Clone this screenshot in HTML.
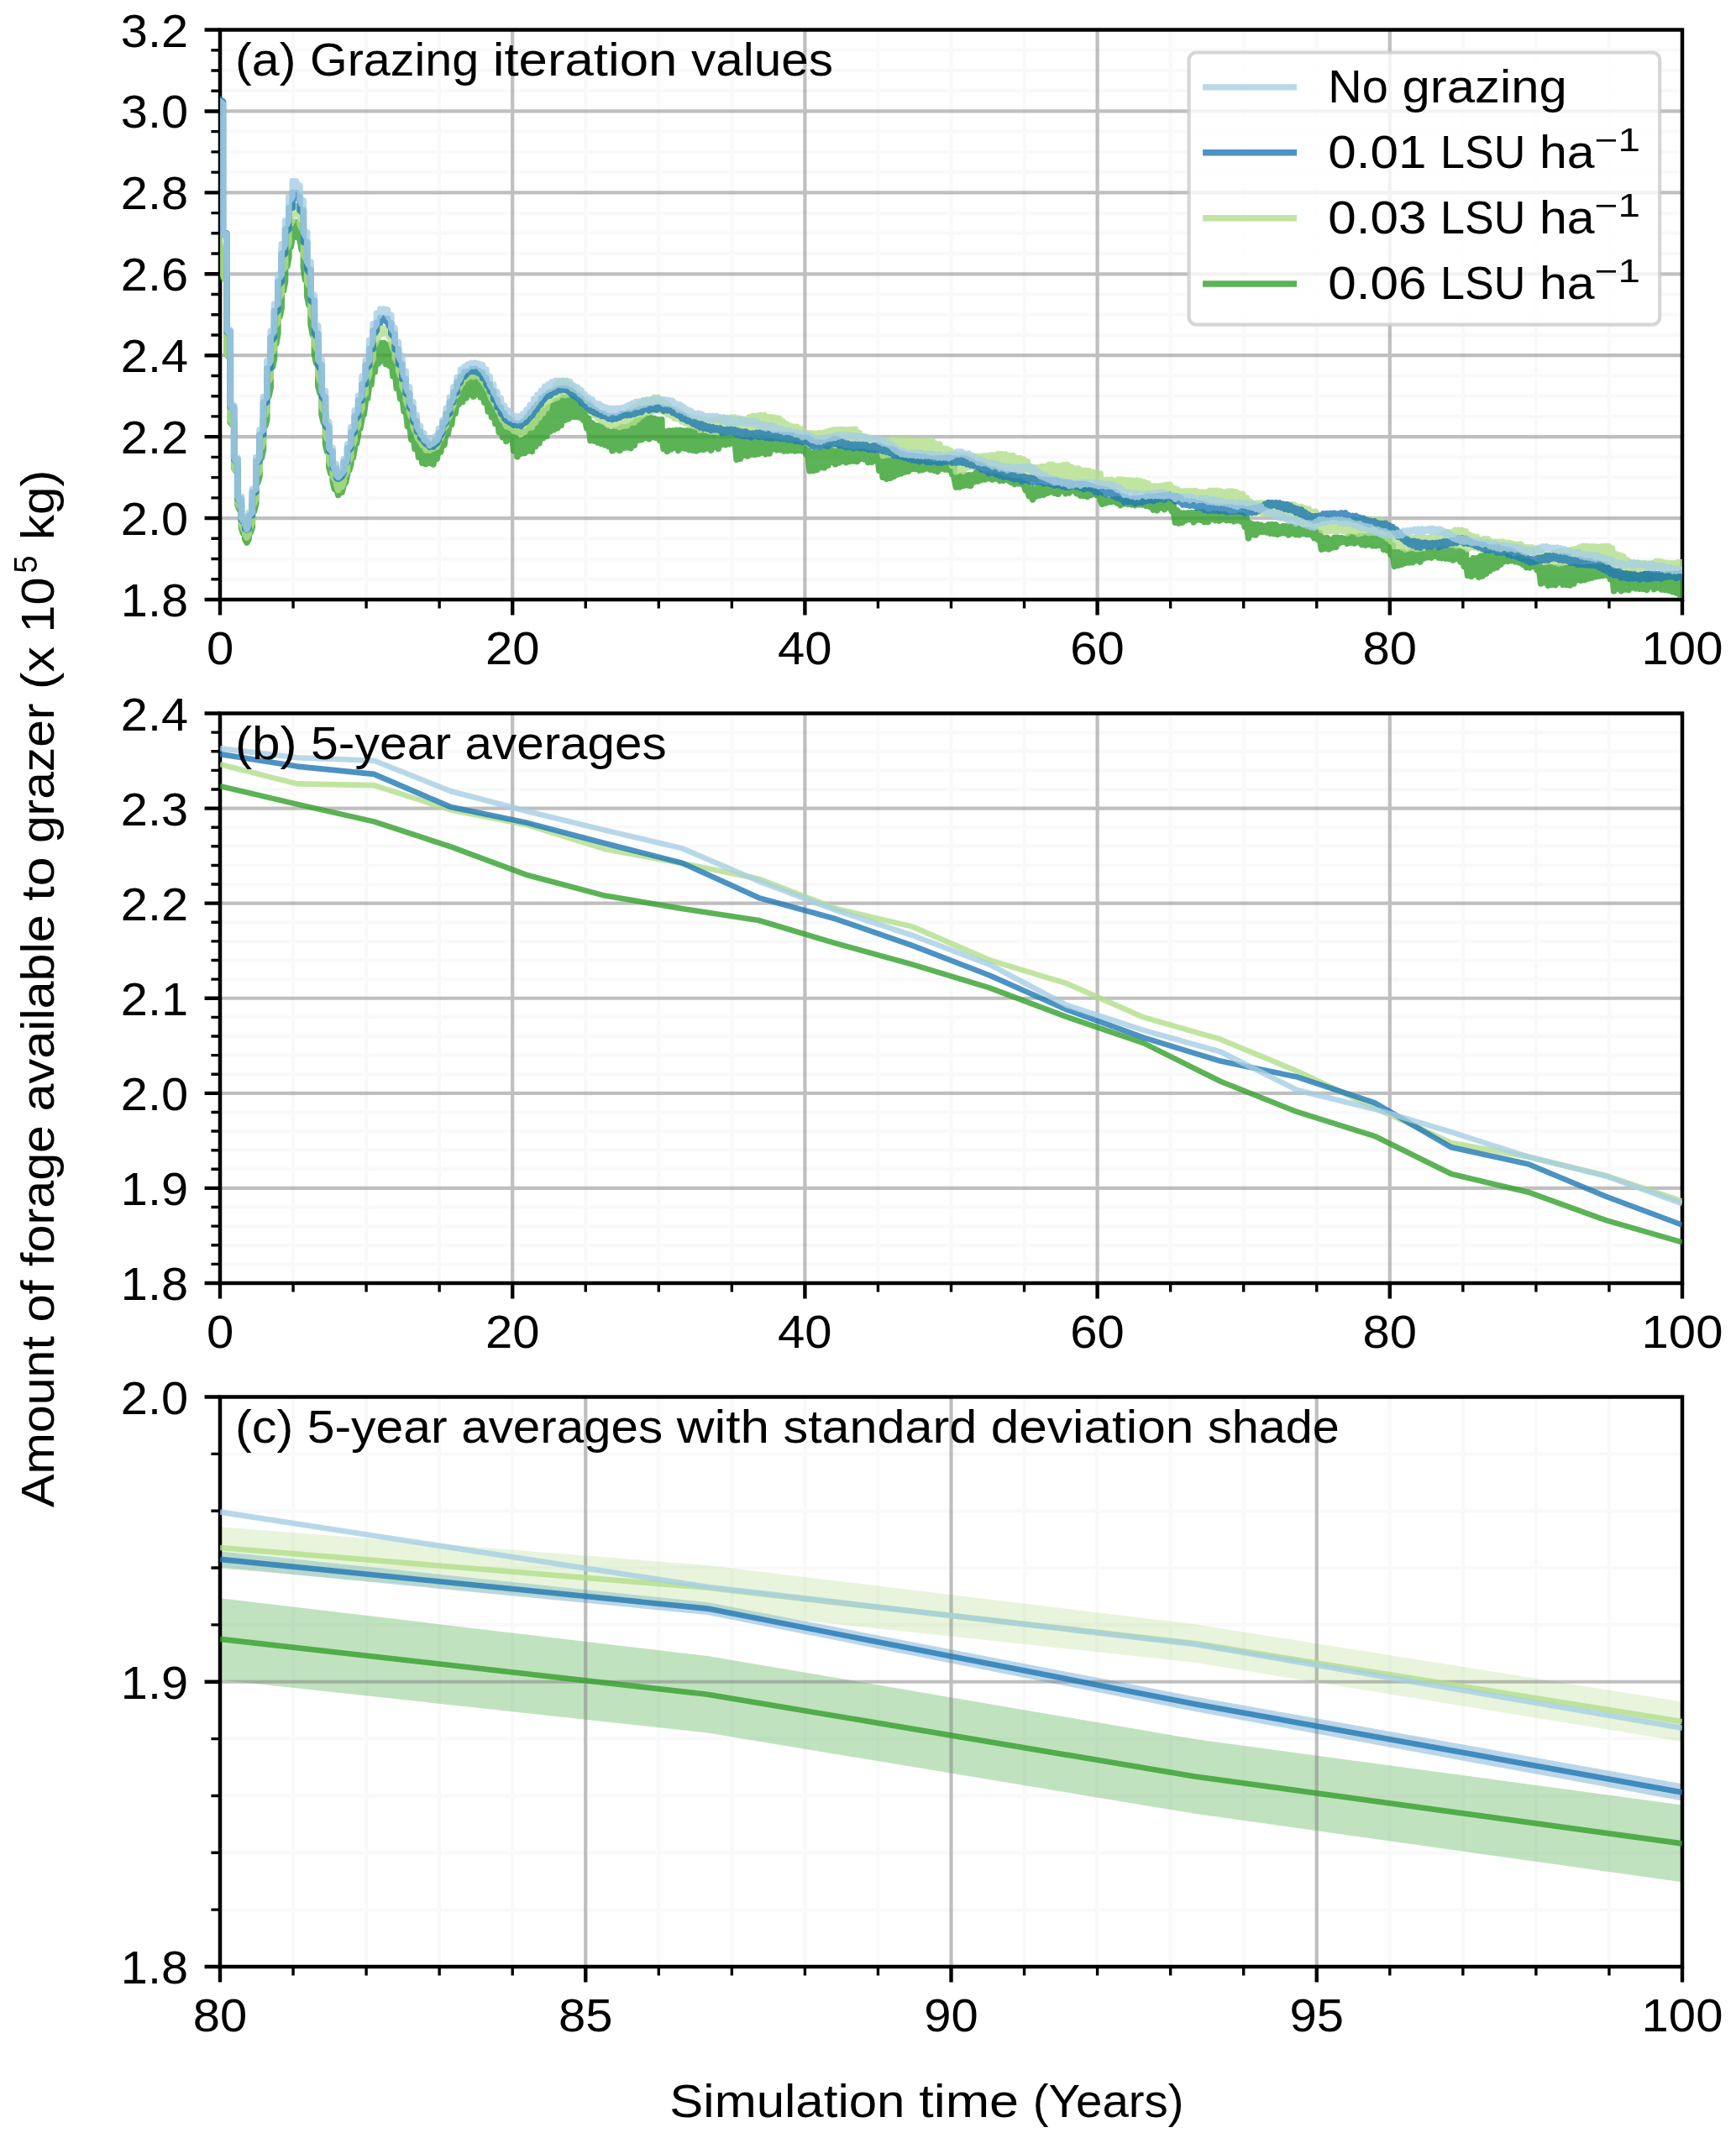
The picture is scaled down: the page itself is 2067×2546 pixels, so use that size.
<!DOCTYPE html>
<html><head><meta charset="utf-8"><title>Forage chart</title>
<style>html,body{margin:0;padding:0;background:#fff}svg{display:block;will-change:transform}text{font-family:"Liberation Sans",sans-serif;fill:#000}</style></head>
<body>
<svg width="2067" height="2546" viewBox="0 0 2067 2546">
<rect x="0" y="0" width="2067" height="2546" fill="#fff"/>
<defs><clipPath id="c0"><rect x="262.0" y="35.5" width="1741.0" height="678.5"/></clipPath><clipPath id="c1"><rect x="262.0" y="849.5" width="1741.0" height="678.5"/></clipPath><clipPath id="c2"><rect x="262.0" y="1663.5" width="1741.0" height="678.5"/></clipPath></defs>
<g id="panel0">
<path d="M349.05 35.5V714.0M436.10 35.5V714.0M523.15 35.5V714.0M697.25 35.5V714.0M784.30 35.5V714.0M871.35 35.5V714.0M1045.45 35.5V714.0M1132.50 35.5V714.0M1219.55 35.5V714.0M1393.65 35.5V714.0M1480.70 35.5V714.0M1567.75 35.5V714.0M1741.85 35.5V714.0M1828.90 35.5V714.0M1915.95 35.5V714.0M262.0 689.77H2003.0M262.0 665.54H2003.0M262.0 641.30H2003.0M262.0 592.84H2003.0M262.0 568.61H2003.0M262.0 544.38H2003.0M262.0 495.91H2003.0M262.0 471.68H2003.0M262.0 447.45H2003.0M262.0 398.98H2003.0M262.0 374.75H2003.0M262.0 350.52H2003.0M262.0 302.05H2003.0M262.0 277.82H2003.0M262.0 253.59H2003.0M262.0 205.12H2003.0M262.0 180.89H2003.0M262.0 156.66H2003.0M262.0 108.20H2003.0M262.0 83.96H2003.0M262.0 59.73H2003.0" stroke="#808080" stroke-opacity="0.05" stroke-width="4.0" fill="none"/>
<path d="M610.20 35.5V714.0M958.40 35.5V714.0M1306.60 35.5V714.0M1654.80 35.5V714.0M262.0 617.07H2003.0M262.0 520.14H2003.0M262.0 423.21H2003.0M262.0 326.29H2003.0M262.0 229.36H2003.0M262.0 132.43H2003.0" stroke="#808080" stroke-opacity="0.5" stroke-width="4.2" fill="none"/>
<path d="M262.00 714.0v18.4M610.20 714.0v18.4M958.40 714.0v18.4M1306.60 714.0v18.4M1654.80 714.0v18.4M2003.00 714.0v18.4M262.0 714.00h-18.4M262.0 617.07h-18.4M262.0 520.14h-18.4M262.0 423.21h-18.4M262.0 326.29h-18.4M262.0 229.36h-18.4M262.0 132.43h-18.4M262.0 35.50h-18.4" stroke="#000" stroke-width="4.4" fill="none"/>
<path d="M349.05 714.0v10.6M436.10 714.0v10.6M523.15 714.0v10.6M697.25 714.0v10.6M784.30 714.0v10.6M871.35 714.0v10.6M1045.45 714.0v10.6M1132.50 714.0v10.6M1219.55 714.0v10.6M1393.65 714.0v10.6M1480.70 714.0v10.6M1567.75 714.0v10.6M1741.85 714.0v10.6M1828.90 714.0v10.6M1915.95 714.0v10.6M262.0 689.77h-10.6M262.0 665.54h-10.6M262.0 641.30h-10.6M262.0 592.84h-10.6M262.0 568.61h-10.6M262.0 544.38h-10.6M262.0 495.91h-10.6M262.0 471.68h-10.6M262.0 447.45h-10.6M262.0 398.98h-10.6M262.0 374.75h-10.6M262.0 350.52h-10.6M262.0 302.05h-10.6M262.0 277.82h-10.6M262.0 253.59h-10.6M262.0 205.12h-10.6M262.0 180.89h-10.6M262.0 156.66h-10.6M262.0 108.20h-10.6M262.0 83.96h-10.6M262.0 59.73h-10.6" stroke="#000" stroke-width="3.4" fill="none"/>
<rect x="262.0" y="35.5" width="1741.0" height="678.5" fill="none" stroke="#000" stroke-width="4.5"/>
<g clip-path="url(#c0)"><path d="M260.0 281.0L265.6 322.0L265.6 331.1L267.8 332.1L270.0 331.1L270.0 422.5L272.1 424.7L274.3 422.5L274.3 503.0L276.5 505.2L278.7 503.0L278.7 557.5L280.8 560.9L283.0 557.5L283.0 601.2L285.2 606.8L287.4 601.2L287.4 628.2L289.5 635.0L291.7 628.2L291.7 641.8L293.9 645.9L296.1 641.8L296.1 627.8L298.2 633.9L300.4 627.8L300.4 599.5L302.6 608.9L304.8 599.5L304.8 566.6L306.9 574.9L309.1 566.6L309.1 535.4L311.3 545.4L313.5 535.4L313.5 499.6L315.7 507.2L317.8 499.6L317.8 461.3L320.0 471.8L322.2 461.3L322.2 427.3L324.4 437.0L326.5 427.3L326.5 396.4L328.7 409.5L330.9 396.4L330.9 366.7L333.1 376.7L335.2 366.7L335.2 334.7L337.4 346.3L339.6 334.7L339.6 305.9L341.8 317.2L343.9 305.9L343.9 281.3L346.1 294.0L348.3 281.3L348.3 264.8L350.5 278.0L352.7 264.8L352.7 268.9L354.8 282.9L357.0 268.9L357.0 284.1L359.2 297.3L361.4 284.1L361.4 319.0L363.5 333.2L365.7 319.0L365.7 352.4L367.9 363.0L370.1 352.4L370.1 385.9L372.2 398.0L374.4 385.9L374.4 421.5L376.6 432.2L378.8 421.5L378.8 459.4L380.9 467.7L383.1 459.4L383.1 494.1L385.3 503.2L387.5 494.1L387.5 528.6L389.6 537.7L391.8 528.6L391.8 556.0L394.0 564.3L396.2 556.0L396.2 573.0L398.4 582.1L400.5 573.0L400.5 581.2L402.7 589.4L404.9 581.2L404.9 577.7L407.1 586.2L409.2 577.7L409.2 564.5L411.4 574.6L413.6 564.5L413.6 552.3L415.8 559.7L417.9 552.3L417.9 533.5L420.1 545.3L422.3 533.5L422.3 516.0L424.5 528.3L426.6 516.0L426.6 497.9L428.8 510.2L431.0 497.9L431.0 476.9L433.2 493.5L435.3 476.9L435.3 457.5L437.5 474.6L439.7 457.5L439.7 437.6L441.9 458.1L444.1 437.6L444.1 419.4L446.2 442.8L448.4 419.4L448.4 412.1L450.6 432.8L452.8 412.1L452.8 408.6L454.9 429.4L457.1 408.6L457.1 410.5L459.3 433.4L461.5 410.5L461.5 413.9L463.6 435.4L465.8 413.9L465.8 426.3L468.0 447.8L470.2 426.3L470.2 440.0L472.3 462.3L474.5 440.0L474.5 455.7L476.7 474.9L478.9 455.7L478.9 471.6L481.0 489.7L483.2 471.6L483.2 486.3L485.4 507.6L487.6 486.3L487.6 504.3L489.8 523.2L491.9 504.3L491.9 518.4L494.1 534.4L496.3 518.4L496.3 525.9L498.5 544.3L500.6 525.9L500.6 536.0L502.8 551.3L505.0 536.0L505.0 537.5L507.2 552.6L509.3 537.5L509.3 537.2L511.5 551.4L513.7 537.2L513.7 535.1L515.9 552.9L518.0 535.1L518.0 533.8L520.2 546.4L522.4 533.8L522.4 524.7L524.6 538.3L526.8 524.7L526.8 511.8L528.9 529.9L531.1 511.8L531.1 501.3L533.3 516.8L535.5 501.3L535.5 487.2L537.6 505.6L539.8 487.2L539.8 477.7L542.0 492.7L544.2 477.7L544.2 463.6L546.3 481.2L548.5 463.6L548.5 456.5L550.7 478.5L552.9 456.5L552.9 453.9L555.0 474.0L557.2 453.9L557.2 449.9L559.4 469.6L561.6 449.9L561.6 451.6L563.7 472.2L565.9 451.6L565.9 451.1L568.1 469.8L570.3 451.1L570.3 455.9L572.5 473.0L574.6 455.9L574.6 462.4L576.8 479.2L579.0 462.4L579.0 470.1L581.2 489.9L583.3 470.1L583.3 479.4L585.5 496.6L587.7 479.4L587.7 488.6L589.9 504.5L592.0 488.6L592.0 495.9L594.2 514.6L596.4 495.9L596.4 506.2L598.6 520.7L600.7 506.2L600.7 509.5L602.9 525.5L605.1 509.5L605.1 511.9L607.3 523.3L609.4 511.9L609.4 512.5L611.6 536.6L613.8 512.5L613.8 515.8L616.0 543.8L618.2 515.8L618.2 516.9L620.3 540.1L622.5 516.9L622.5 514.6L624.7 539.5L626.9 514.6L626.9 512.8L629.0 537.0L631.2 512.8L631.2 505.5L633.4 537.5L635.6 505.5L635.6 503.9L637.7 531.5L639.9 503.9L639.9 496.4L642.1 527.7L644.3 496.4L644.3 492.5L646.4 521.8L648.6 492.5L648.6 488.9L650.8 519.4L653.0 488.9L653.0 484.9L655.1 513.7L657.3 484.9L657.3 483.2L659.5 511.7L661.7 483.2L661.7 478.0L663.9 509.6L666.0 478.0L666.0 477.1L668.2 506.5L670.4 477.1L670.4 473.3L672.6 500.3L674.7 473.3L674.7 476.0L676.9 498.7L679.1 476.0L679.1 475.0L681.3 496.1L683.4 475.0L683.4 480.1L685.6 496.5L687.8 480.1L687.8 482.5L690.0 496.8L692.1 482.5L692.1 486.8L694.3 500.0L696.5 486.8L696.5 498.3L698.7 509.8L700.8 498.3L700.9 504.1L703.0 524.5L705.2 504.1L705.2 507.3L707.4 524.9L709.6 507.3L709.6 506.8L711.7 526.9L713.9 506.8L713.9 509.5L716.1 528.3L718.3 509.5L718.3 512.2L720.4 529.9L722.6 512.2L722.6 514.4L724.8 531.5L727.0 514.4L727.0 515.0L729.1 536.8L731.3 515.0L731.3 512.7L733.5 534.8L735.7 512.7L735.7 511.4L737.8 536.5L740.0 511.4L740.0 508.7L742.2 533.4L744.4 508.7L744.4 509.0L746.6 532.7L748.7 509.0L748.7 508.0L750.9 533.7L753.1 508.0L753.1 505.0L755.3 530.2L757.4 505.0L757.4 501.5L759.6 524.3L761.8 501.5L761.8 500.2L764.0 523.7L766.1 500.2L766.1 500.0L768.3 521.2L770.5 500.0L770.5 497.5L772.7 522.7L774.8 497.5L774.8 498.5L777.0 520.6L779.2 498.5L779.2 502.3L781.4 521.2L783.5 502.3L783.5 499.9L785.7 524.3L787.9 499.9L787.9 517.3L790.1 534.4L792.3 517.3L792.3 514.1L794.4 537.4L796.6 514.1L796.6 513.0L798.8 535.0L801.0 513.0L801.0 515.1L803.1 533.1L805.3 515.1L805.3 512.2L807.5 536.5L809.7 512.2L809.7 514.1L811.8 533.5L814.0 514.1L814.0 513.0L816.2 534.0L818.4 513.0L818.4 513.0L820.5 535.6L822.7 513.0L822.7 513.0L824.9 536.1L827.1 513.0L827.1 513.6L829.2 536.9L831.4 513.6L831.4 517.7L833.6 535.2L835.8 517.7L835.8 519.0L838.0 535.3L840.1 519.0L840.1 520.7L842.3 533.7L844.5 520.7L844.5 520.0L846.7 536.2L848.8 520.0L848.8 522.2L851.0 532.4L853.2 522.2L853.2 519.6L855.4 534.4L857.5 519.6L857.5 520.3L859.7 529.4L861.9 520.3L861.9 522.2L864.1 529.6L866.2 522.2L866.2 522.6L868.4 528.6L870.6 522.6L870.6 522.1L872.8 527.1L875.0 522.1L875.0 522.1L877.1 547.1L879.3 522.1L879.3 523.9L881.5 546.1L883.7 523.9L883.7 525.1L885.8 541.9L888.0 525.1L888.0 525.5L890.2 542.9L892.4 525.5L892.4 523.8L894.5 541.0L896.7 523.8L896.7 522.3L898.9 541.3L901.1 522.3L901.1 522.7L903.2 540.6L905.4 522.7L905.4 522.6L907.6 539.0L909.8 522.6L909.8 524.8L911.9 540.8L914.1 524.8L914.1 525.2L916.3 539.9L918.5 525.2L918.5 526.6L920.7 534.6L922.8 526.6L922.8 525.3L925.0 535.8L927.2 525.3L927.2 525.7L929.4 535.7L931.5 525.7L931.5 525.7L933.7 537.1L935.9 525.7L935.9 525.5L938.1 536.8L940.2 525.5L940.2 526.9L942.4 536.2L944.6 526.9L944.6 526.3L946.8 537.1L948.9 526.3L948.9 525.7L951.1 536.3L953.3 525.7L953.3 526.8L955.5 536.9L957.6 526.8L957.6 531.6L959.8 540.6L962.0 531.6L962.0 539.7L964.2 560.8L966.4 539.7L966.4 539.9L968.5 560.4L970.7 539.9L970.7 539.1L972.9 559.4L975.1 539.1L975.1 538.5L977.2 556.4L979.4 538.5L979.4 539.1L981.6 556.9L983.8 539.1L983.8 533.4L985.9 554.1L988.1 533.4L988.1 535.0L990.3 550.2L992.5 535.0L992.5 535.0L994.6 552.7L996.8 535.0L996.8 534.2L999.0 550.9L1001.2 534.2L1001.2 536.9L1003.3 549.3L1005.5 536.9L1005.5 537.2L1007.7 550.7L1009.9 537.2L1009.9 536.7L1012.1 549.5L1014.2 536.7L1014.2 535.8L1016.4 549.0L1018.6 535.8L1018.6 537.8L1020.8 549.5L1022.9 537.8L1022.9 540.5L1025.1 546.2L1027.3 540.5L1027.3 536.9L1029.5 547.0L1031.6 536.9L1031.6 537.9L1033.8 550.5L1036.0 537.9L1036.0 539.8L1038.2 550.2L1040.3 539.8L1040.3 539.9L1042.5 548.5L1044.7 539.9L1044.7 541.6L1046.9 560.2L1049.0 541.6L1049.1 546.6L1051.2 568.3L1053.4 546.6L1053.4 544.4L1055.6 570.2L1057.8 544.4L1057.8 545.9L1059.9 569.3L1062.1 545.9L1062.1 545.5L1064.3 567.4L1066.5 545.5L1066.5 546.6L1068.6 565.0L1070.8 546.6L1070.8 545.8L1073.0 563.7L1075.2 545.8L1075.2 547.0L1077.3 562.1L1079.5 547.0L1079.5 549.5L1081.7 561.2L1083.9 549.5L1083.9 548.6L1086.0 558.5L1088.2 548.6L1088.2 551.2L1090.4 558.3L1092.6 551.2L1092.6 549.1L1094.8 560.0L1096.9 549.1L1096.9 548.9L1099.1 559.3L1101.3 548.9L1101.3 550.5L1103.5 557.9L1105.6 550.5L1105.6 553.9L1107.8 559.2L1110.0 553.9L1110.0 553.2L1112.2 560.2L1114.3 553.2L1114.3 554.4L1116.5 561.4L1118.7 554.4L1118.7 552.9L1120.9 557.9L1123.0 552.9L1123.0 552.8L1125.2 559.0L1127.4 552.8L1127.4 552.9L1129.6 559.3L1131.7 552.9L1131.7 556.4L1133.9 564.9L1136.1 556.4L1136.1 568.0L1138.3 580.1L1140.5 568.0L1140.5 568.2L1142.6 580.0L1144.8 568.2L1144.8 566.0L1147.0 578.5L1149.2 566.0L1149.2 567.2L1151.3 577.7L1153.5 567.2L1153.5 565.9L1155.7 578.5L1157.9 565.9L1157.9 565.9L1160.0 573.7L1162.2 565.9L1162.2 562.5L1164.4 573.0L1166.6 562.5L1166.6 565.0L1168.7 571.5L1170.9 565.0L1170.9 564.4L1173.1 570.8L1175.3 564.4L1175.3 564.2L1177.4 569.7L1179.6 564.2L1179.6 565.4L1181.8 571.0L1184.0 565.4L1184.0 569.9L1186.2 569.9L1188.3 569.9L1188.3 566.7L1190.5 572.5L1192.7 566.7L1192.7 569.0L1194.9 572.2L1197.0 569.0L1197.0 568.7L1199.2 571.5L1201.4 568.7L1201.4 572.3L1203.6 574.1L1205.7 572.3L1205.7 574.0L1207.9 576.4L1210.1 574.0L1210.1 572.7L1212.3 575.7L1214.4 572.7L1214.4 574.0L1216.6 576.3L1218.8 574.0L1218.8 576.4L1221.0 583.5L1223.2 576.4L1223.2 582.3L1225.3 590.7L1227.5 582.3L1227.5 582.6L1229.7 594.8L1231.9 582.6L1231.9 583.5L1234.0 590.8L1236.2 583.5L1236.2 579.6L1238.4 589.9L1240.6 579.6L1240.6 583.6L1242.7 589.2L1244.9 583.6L1244.9 581.4L1247.1 587.3L1249.3 581.4L1249.3 582.8L1251.4 585.7L1253.6 582.8L1253.6 583.0L1255.8 587.1L1258.0 583.0L1258.0 580.1L1260.1 588.2L1262.3 580.1L1262.3 581.7L1264.5 584.6L1266.7 581.7L1266.7 581.0L1268.9 587.6L1271.0 581.0L1271.0 581.2L1273.2 586.9L1275.4 581.2L1275.4 584.3L1277.6 584.3L1279.7 584.3L1279.7 582.9L1281.9 587.6L1284.1 582.9L1284.1 583.4L1286.3 590.1L1288.4 583.4L1288.4 583.1L1290.6 590.3L1292.8 583.1L1292.8 582.6L1295.0 591.2L1297.1 582.6L1297.1 587.1L1299.3 589.3L1301.5 587.1L1301.5 585.7L1303.7 586.7L1305.8 585.7L1305.8 589.4L1308.0 589.4L1310.2 589.4L1310.2 595.8L1312.4 600.2L1314.6 595.8L1314.6 595.3L1316.7 599.0L1318.9 595.3L1318.9 597.7L1321.1 597.7L1323.3 597.7L1323.3 595.3L1325.4 596.8L1327.6 595.3L1327.6 594.6L1329.8 598.7L1332.0 594.6L1332.0 598.4L1334.1 601.5L1336.3 598.4L1336.3 597.1L1338.5 599.8L1340.7 597.1L1340.7 599.0L1342.8 600.3L1345.0 599.0L1345.0 597.9L1347.2 600.8L1349.4 597.9L1349.4 596.1L1351.5 601.7L1353.7 596.1L1353.7 596.4L1355.9 600.6L1358.1 596.4L1358.1 600.3L1360.3 601.0L1362.4 600.3L1362.4 598.0L1364.6 602.2L1366.8 598.0L1366.8 600.7L1369.0 603.2L1371.1 600.7L1371.1 597.2L1373.3 607.1L1375.5 597.2L1375.5 597.3L1377.7 607.7L1379.8 597.3L1379.8 601.4L1382.0 604.8L1384.2 601.4L1384.2 600.0L1386.4 606.6L1388.5 600.0L1388.5 598.7L1390.7 604.0L1392.9 598.7L1392.9 600.9L1395.1 608.4L1397.2 600.9L1397.2 607.8L1399.4 622.2L1401.6 607.8L1401.6 610.9L1403.8 623.1L1406.0 610.9L1406.0 611.2L1408.1 622.1L1410.3 611.2L1410.3 611.5L1412.5 619.3L1414.7 611.5L1414.7 610.7L1416.8 618.4L1419.0 610.7L1419.0 610.7L1421.2 621.8L1423.4 610.7L1423.4 610.9L1425.5 619.1L1427.7 610.9L1427.7 610.2L1429.9 619.2L1432.1 610.2L1432.1 613.3L1434.2 621.5L1436.4 613.3L1436.4 612.8L1438.6 621.3L1440.8 612.8L1440.8 613.1L1443.0 618.0L1445.1 613.1L1445.1 611.9L1447.3 619.6L1449.5 611.9L1449.5 613.4L1451.7 620.1L1453.8 613.4L1453.8 612.7L1456.0 618.5L1458.2 612.7L1458.2 615.0L1460.4 619.5L1462.5 615.0L1462.5 615.3L1464.7 619.5L1466.9 615.3L1466.9 615.6L1469.1 620.8L1471.2 615.6L1471.2 615.1L1473.4 619.5L1475.6 615.1L1475.6 613.7L1477.8 620.8L1479.9 613.7L1479.9 617.2L1482.1 627.3L1484.3 617.2L1484.3 622.9L1486.5 640.9L1488.7 622.9L1488.7 625.9L1490.8 636.6L1493.0 625.9L1493.0 624.6L1495.2 637.0L1497.4 624.6L1497.4 625.4L1499.5 633.6L1501.7 625.4L1501.7 626.9L1503.9 633.2L1506.1 626.9L1506.1 627.3L1508.2 633.8L1510.4 627.3L1510.4 624.7L1512.6 635.1L1514.8 624.7L1514.8 624.9L1516.9 635.5L1519.1 624.9L1519.1 627.7L1521.3 636.4L1523.5 627.7L1523.5 629.1L1525.6 634.9L1527.8 629.1L1527.8 626.6L1530.0 634.8L1532.2 626.6L1532.2 626.5L1534.4 636.9L1536.5 626.5L1536.5 627.4L1538.7 635.2L1540.9 627.4L1540.9 628.6L1543.1 636.5L1545.2 628.6L1545.2 631.0L1547.4 636.8L1549.6 631.0L1549.6 630.7L1551.8 635.3L1553.9 630.7L1553.9 630.5L1556.1 636.4L1558.3 630.5L1558.3 632.8L1560.5 636.6L1562.6 632.8L1562.6 632.7L1564.8 640.7L1567.0 632.7L1567.0 635.0L1569.2 642.6L1571.3 635.0L1571.3 640.6L1573.5 654.2L1575.7 640.6L1575.7 640.5L1577.9 653.1L1580.1 640.5L1580.1 643.4L1582.2 654.0L1584.4 643.4L1584.4 642.8L1586.6 652.1L1588.8 642.8L1588.8 640.2L1590.9 651.4L1593.1 640.2L1593.1 640.6L1595.3 646.5L1597.5 640.6L1597.5 641.4L1599.6 645.2L1601.8 641.4L1601.8 641.6L1604.0 647.3L1606.2 641.6L1606.2 639.1L1608.3 646.1L1610.5 639.1L1610.5 640.7L1612.7 647.0L1614.9 640.7L1614.9 639.7L1617.1 645.6L1619.2 639.7L1619.2 638.6L1621.4 648.5L1623.6 638.6L1623.6 638.9L1625.8 649.3L1627.9 638.9L1627.9 639.7L1630.1 648.1L1632.3 639.7L1632.3 637.2L1634.5 649.8L1636.6 637.2L1636.6 640.2L1638.8 649.8L1641.0 640.2L1641.0 640.3L1643.2 649.4L1645.3 640.3L1645.3 642.2L1647.5 654.3L1649.7 642.2L1649.7 641.3L1651.9 655.5L1654.0 641.3L1654.0 649.0L1656.2 660.9L1658.4 649.0L1658.4 660.5L1660.6 674.3L1662.8 660.5L1662.8 657.5L1664.9 673.2L1667.1 657.5L1667.1 657.4L1669.3 672.1L1671.5 657.4L1671.5 660.1L1673.6 670.3L1675.8 660.1L1675.8 660.3L1678.0 670.0L1680.2 660.3L1680.2 657.1L1682.3 669.7L1684.5 657.1L1684.5 658.1L1686.7 667.3L1688.9 658.1L1688.9 658.2L1691.0 669.1L1693.2 658.2L1693.2 658.8L1695.4 664.9L1697.6 658.8L1697.6 659.2L1699.7 663.6L1701.9 659.2L1701.9 656.5L1704.1 664.1L1706.3 656.5L1706.3 658.6L1708.5 662.1L1710.6 658.6L1710.6 656.7L1712.8 664.0L1715.0 656.7L1715.0 654.2L1717.2 664.6L1719.3 654.2L1719.3 656.6L1721.5 665.1L1723.7 656.6L1723.7 653.0L1725.9 665.3L1728.0 653.0L1728.0 654.5L1730.2 667.0L1732.4 654.5L1732.4 655.7L1734.6 665.2L1736.7 655.7L1736.7 656.9L1738.9 668.9L1741.1 656.9L1741.1 658.7L1743.3 674.6L1745.4 658.7L1745.4 667.9L1747.6 685.3L1749.8 667.9L1749.8 669.0L1752.0 686.3L1754.2 669.0L1754.2 664.7L1756.3 684.3L1758.5 664.7L1758.5 665.1L1760.7 687.2L1762.9 665.1L1762.9 662.4L1765.0 685.9L1767.2 662.4L1767.2 660.7L1769.4 683.1L1771.6 660.7L1771.6 659.8L1773.7 679.9L1775.9 659.8L1775.9 660.2L1778.1 677.0L1780.3 660.2L1780.3 657.8L1782.4 675.7L1784.6 657.8L1784.6 660.0L1786.8 672.3L1789.0 660.0L1789.0 660.5L1791.2 668.6L1793.3 660.5L1793.3 663.7L1795.5 668.3L1797.7 663.7L1797.7 666.0L1799.9 667.6L1802.0 666.0L1802.0 666.6L1804.2 668.7L1806.4 666.6L1806.4 664.8L1808.6 669.8L1810.7 664.8L1810.7 667.3L1812.9 672.0L1815.1 667.3L1815.1 667.5L1817.3 675.5L1819.4 667.5L1819.4 669.6L1821.6 676.0L1823.8 669.6L1823.8 672.0L1826.0 674.2L1828.1 672.0L1828.1 673.1L1830.3 678.8L1832.5 673.1L1832.5 676.1L1834.7 694.9L1836.9 676.1L1836.9 677.1L1839.0 693.7L1841.2 677.1L1841.2 675.1L1843.4 697.2L1845.6 675.1L1845.6 677.9L1847.7 696.3L1849.9 677.9L1849.9 675.9L1852.1 696.6L1854.3 675.9L1854.3 677.6L1856.4 693.6L1858.6 677.6L1858.6 675.9L1860.8 696.1L1863.0 675.9L1863.0 679.2L1865.1 696.3L1867.3 679.2L1867.3 675.7L1869.5 696.9L1871.7 675.7L1871.7 674.7L1873.8 695.0L1876.0 674.7L1876.0 675.2L1878.2 690.7L1880.4 675.2L1880.4 675.8L1882.6 691.3L1884.7 675.8L1884.7 677.7L1886.9 690.7L1889.1 677.7L1889.1 675.1L1891.3 689.0L1893.4 675.1L1893.4 675.0L1895.6 687.9L1897.8 675.0L1897.8 676.7L1900.0 686.6L1902.1 676.7L1902.1 674.9L1904.3 686.0L1906.5 674.9L1906.5 676.7L1908.7 685.4L1910.8 676.7L1910.8 674.6L1913.0 684.9L1915.2 674.6L1915.2 680.5L1917.4 689.7L1919.6 680.5L1919.6 681.0L1921.7 703.8L1923.9 681.0L1923.9 683.3L1926.1 701.0L1928.3 683.3L1928.3 684.0L1930.4 703.6L1932.6 684.0L1932.6 682.2L1934.8 701.9L1937.0 682.2L1937.0 685.0L1939.1 702.4L1941.3 685.0L1941.3 682.8L1943.5 699.8L1945.7 682.8L1945.7 685.8L1947.8 700.8L1950.0 685.8L1950.0 686.4L1952.2 701.2L1954.4 686.4L1954.4 685.4L1956.5 701.3L1958.7 685.4L1958.7 683.3L1960.9 702.4L1963.1 683.3L1963.1 684.9L1965.3 698.7L1967.4 684.9L1967.4 686.2L1969.6 701.7L1971.8 686.2L1971.8 685.5L1974.0 699.8L1976.1 685.5L1976.1 685.7L1978.3 702.1L1980.5 685.7L1980.5 686.2L1982.7 702.4L1984.8 686.2L1984.8 684.1L1987.0 703.0L1989.2 684.1L1989.2 682.7L1991.4 704.7L1993.5 682.7L1993.5 685.7L1995.7 705.9L1997.9 685.7L1997.9 683.9L2000.1 708.5L2002.2 683.9L2002.2 685.8L2004.4 708.7L2006.6 685.8" stroke="#33a02c" stroke-opacity="0.8" stroke-width="7.6" fill="none" stroke-linejoin="round"/>
<path d="M260.0 278.0L265.6 320.0L265.6 327.5L267.8 332.2L270.0 327.5L270.0 421.8L272.1 424.0L274.3 421.8L274.3 498.6L276.5 504.1L278.7 498.6L278.7 555.8L280.8 560.3L283.0 555.8L283.0 598.2L285.2 603.0L287.4 598.2L287.4 623.9L289.5 629.9L291.7 623.9L291.7 635.8L293.9 639.9L296.1 635.8L296.1 622.2L298.2 627.3L300.4 622.2L300.4 593.5L302.6 599.5L304.8 593.5L304.8 560.2L306.9 564.3L309.1 560.2L309.1 526.1L311.3 532.7L313.5 526.1L313.5 489.1L315.7 494.3L317.8 489.1L317.8 449.9L320.0 453.4L322.2 449.9L322.2 415.6L324.4 419.3L326.5 415.6L326.5 383.1L328.7 386.8L330.9 383.1L330.9 350.1L333.1 353.7L335.2 350.1L335.2 317.8L337.4 320.3L339.6 317.8L339.6 289.5L341.8 294.9L343.9 289.5L343.9 262.9L346.1 266.8L348.3 262.9L348.3 245.6L350.5 249.8L352.7 245.6L352.7 250.7L354.8 255.4L357.0 250.7L357.0 266.7L359.2 271.7L361.4 266.7L361.4 303.4L363.5 307.3L365.7 303.4L365.7 335.0L367.9 340.0L370.1 335.0L370.1 373.4L372.2 377.6L374.4 373.4L374.4 410.0L376.6 414.6L378.8 410.0L378.8 446.2L380.9 453.7L383.1 446.2L383.1 483.5L385.3 488.8L387.5 483.5L387.5 518.5L389.6 522.5L391.8 518.5L391.8 549.0L394.0 554.0L396.2 549.0L396.2 565.8L398.4 570.9L400.5 565.8L400.5 576.6L402.7 583.5L404.9 576.6L404.9 573.2L407.1 579.6L409.2 573.2L409.2 559.7L411.4 565.2L413.6 559.7L413.6 544.0L415.8 548.4L417.9 544.0L417.9 523.7L420.1 529.1L422.3 523.7L422.3 506.0L424.5 510.3L426.6 506.0L426.6 486.0L428.8 491.1L431.0 486.0L431.0 468.0L433.2 471.3L435.3 468.0L435.3 445.4L437.5 450.7L439.7 445.4L439.7 427.2L441.9 432.2L444.1 427.2L444.1 406.0L446.2 410.2L448.4 406.0L448.4 395.4L450.6 401.8L452.8 395.4L452.8 391.2L454.9 397.3L457.1 391.2L457.1 392.8L459.3 397.5L461.5 392.8L461.5 397.9L463.6 401.7L465.8 397.9L465.8 408.4L468.0 415.3L470.2 408.4L470.2 426.3L472.3 430.3L474.5 426.3L474.5 440.6L476.7 447.7L478.9 440.6L478.9 459.9L481.0 464.9L483.2 459.9L483.2 476.2L485.4 482.1L487.6 476.2L487.6 491.0L489.8 497.0L491.9 491.0L491.9 508.1L494.1 513.1L496.3 508.1L496.3 519.2L498.5 523.5L500.6 519.2L500.6 525.9L502.8 530.1L505.0 525.9L505.0 528.9L507.2 536.0L509.3 528.9L509.3 531.7L511.5 536.0L513.7 531.7L513.7 529.9L515.9 534.4L518.0 529.9L518.0 525.6L520.2 532.1L522.4 525.6L522.4 517.7L524.6 522.8L526.8 517.7L526.8 507.4L528.9 510.0L531.1 507.4L531.1 495.2L533.3 498.5L535.5 495.2L535.5 482.3L537.6 487.3L539.8 482.3L539.8 469.3L542.0 472.3L544.2 469.3L544.2 458.8L546.3 463.1L548.5 458.8L548.5 450.5L550.7 456.1L552.9 450.5L552.9 447.0L555.0 451.1L557.2 447.0L557.2 443.7L559.4 448.1L561.6 443.7L561.6 442.2L563.7 448.7L565.9 442.2L565.9 445.6L568.1 447.8L570.3 445.6L570.3 446.8L572.5 451.6L574.6 446.8L574.6 453.7L576.8 457.4L579.0 453.7L579.0 459.8L581.2 464.9L583.3 459.8L583.3 470.4L585.5 475.5L587.7 470.4L587.7 479.1L589.9 482.4L592.0 479.1L592.0 486.5L594.2 491.2L596.4 486.5L596.4 496.8L598.6 500.5L600.7 496.8L600.7 502.4L602.9 507.7L605.1 502.4L605.1 505.5L607.3 509.5L609.4 505.5L609.4 507.3L611.6 513.3L613.8 507.3L613.8 511.4L616.0 514.4L618.2 511.4L618.2 510.9L620.3 517.2L622.5 510.9L622.5 506.2L624.7 514.4L626.9 506.2L626.9 502.1L629.0 509.7L631.2 502.1L631.2 494.8L633.4 509.0L635.6 494.8L635.6 490.4L637.7 503.0L639.9 490.4L639.9 485.7L642.1 497.6L644.3 485.7L644.3 478.8L646.4 492.5L648.6 478.8L648.6 474.3L650.8 486.2L653.0 474.3L653.0 468.2L655.1 476.7L657.3 468.2L657.3 464.2L659.5 475.1L661.7 464.2L661.7 458.1L663.9 473.6L666.0 458.1L666.0 453.8L668.2 470.2L670.4 453.8L670.4 454.2L672.6 470.5L674.7 454.2L674.7 458.1L676.9 469.7L679.1 458.1L679.1 461.9L681.3 468.9L683.4 461.9L683.4 467.2L685.6 471.1L687.8 467.2L687.8 469.6L690.0 475.1L692.1 469.6L692.1 475.8L694.3 480.1L696.5 475.8L696.5 478.4L698.7 484.5L700.8 478.4L700.9 483.5L703.0 490.4L705.2 483.5L705.2 488.0L707.4 494.4L709.6 488.0L709.6 493.4L711.7 498.2L713.9 493.4L713.9 496.9L716.1 501.4L718.3 496.9L718.3 501.3L720.4 502.6L722.6 501.3L722.6 505.2L724.8 506.5L727.0 505.2L727.0 504.0L729.1 506.9L731.3 504.0L731.3 500.6L733.5 507.2L735.7 500.6L735.7 498.1L737.8 508.6L740.0 498.1L740.0 495.2L742.2 507.2L744.4 495.2L744.4 492.9L746.6 506.8L748.7 492.9L748.7 489.2L750.9 503.8L753.1 489.2L753.1 485.5L755.3 503.1L757.4 485.5L757.4 484.4L759.6 499.4L761.8 484.4L761.8 480.9L764.0 495.7L766.1 480.9L766.1 477.0L768.3 492.8L770.5 477.0L770.5 476.5L772.7 491.3L774.8 476.5L774.8 476.1L777.0 489.9L779.2 476.1L779.2 473.3L781.4 487.5L783.5 473.3L783.5 476.0L785.7 489.4L787.9 476.0L787.9 479.8L790.1 490.5L792.3 479.8L792.3 483.1L794.4 493.3L796.6 483.1L796.6 487.2L798.8 494.9L801.0 487.2L801.0 487.2L803.1 498.2L805.3 487.2L805.3 490.7L807.5 498.7L809.7 490.7L809.7 495.0L811.8 502.1L814.0 495.0L814.0 495.7L816.2 503.8L818.4 495.7L818.4 496.4L820.5 505.5L822.7 496.4L822.7 499.2L824.9 507.2L827.1 499.2L827.1 498.1L829.2 508.3L831.4 498.1L831.4 498.9L833.6 512.1L835.8 498.9L835.8 500.0L838.0 511.0L840.1 500.0L840.1 501.3L842.3 512.0L844.5 501.3L844.5 501.4L846.7 514.1L848.8 501.4L848.8 500.3L851.0 514.2L853.2 500.3L853.2 499.2L855.4 514.6L857.5 499.2L857.5 499.6L859.7 513.3L861.9 499.6L861.9 497.5L864.1 515.4L866.2 497.5L866.2 498.4L868.4 515.0L870.6 498.4L870.6 497.0L872.8 514.3L875.0 497.0L875.0 498.1L877.1 514.9L879.3 498.1L879.3 499.1L881.5 517.1L883.7 499.1L883.7 499.3L885.8 517.2L888.0 499.3L888.0 499.6L890.2 517.4L892.4 499.6L892.4 496.8L894.5 516.6L896.7 496.8L896.7 495.4L898.9 518.1L901.1 495.4L901.1 496.7L903.2 518.4L905.4 496.7L905.4 494.2L907.6 518.9L909.8 494.2L909.8 496.8L911.9 518.2L914.1 496.8L914.1 496.8L916.3 517.6L918.5 496.8L918.5 497.6L920.7 517.7L922.8 497.6L922.8 498.3L925.0 520.7L927.2 498.3L927.2 501.4L929.4 520.0L931.5 501.4L931.5 504.4L933.7 521.4L935.9 504.4L935.9 506.7L938.1 521.6L940.2 506.7L940.2 508.0L942.4 522.8L944.6 508.0L944.6 508.3L946.8 521.8L948.9 508.3L948.9 510.8L951.1 522.4L953.3 510.8L953.3 515.9L955.5 524.2L957.6 515.9L957.6 517.2L959.8 527.2L962.0 517.2L962.0 515.8L964.2 529.5L966.4 515.8L966.4 516.4L968.5 528.6L970.7 516.4L970.7 516.5L972.9 530.2L975.1 516.5L975.1 515.5L977.2 530.1L979.4 515.5L979.4 515.5L981.6 529.0L983.8 515.5L983.8 514.2L985.9 528.5L988.1 514.2L988.1 513.1L990.3 528.4L992.5 513.1L992.5 511.8L994.6 530.3L996.8 511.8L996.8 511.5L999.0 528.3L1001.2 511.5L1001.2 511.6L1003.3 529.3L1005.5 511.6L1005.5 513.0L1007.7 529.2L1009.9 513.0L1009.9 511.9L1012.1 530.9L1014.2 511.9L1014.2 511.4L1016.4 531.8L1018.6 511.4L1018.6 515.4L1020.8 531.4L1022.9 515.4L1022.9 519.3L1025.1 530.8L1027.3 519.3L1027.3 520.2L1029.5 531.7L1031.6 520.2L1031.6 521.5L1033.8 532.2L1036.0 521.5L1036.0 523.7L1038.2 534.1L1040.3 523.7L1040.3 522.4L1042.5 533.0L1044.7 522.4L1044.7 525.6L1046.9 535.7L1049.0 525.6L1049.1 525.4L1051.2 542.8L1053.4 525.4L1053.4 524.5L1055.6 541.6L1057.8 524.5L1057.8 526.2L1059.9 541.6L1062.1 526.2L1062.1 523.9L1064.3 541.8L1066.5 523.9L1066.5 523.2L1068.6 538.1L1070.8 523.2L1070.8 524.3L1073.0 537.8L1075.2 524.3L1075.2 523.6L1077.3 541.0L1079.5 523.6L1079.5 524.3L1081.7 541.2L1083.9 524.3L1083.9 525.5L1086.0 540.5L1088.2 525.5L1088.2 525.7L1090.4 543.1L1092.6 525.7L1092.6 524.7L1094.8 542.0L1096.9 524.7L1096.9 525.7L1099.1 543.7L1101.3 525.7L1101.3 524.5L1103.5 544.9L1105.6 524.5L1105.6 524.9L1107.8 546.3L1110.0 524.9L1110.0 528.6L1112.2 544.9L1114.3 528.6L1114.3 529.1L1116.5 545.5L1118.7 529.1L1118.7 533.9L1120.9 545.5L1123.0 533.9L1123.0 534.5L1125.2 545.6L1127.4 534.5L1127.4 536.7L1129.6 548.3L1131.7 536.7L1131.7 539.3L1133.9 554.8L1136.1 539.3L1136.1 542.7L1138.3 561.8L1140.5 542.7L1140.5 542.3L1142.6 559.7L1144.8 542.3L1144.8 542.9L1147.0 561.4L1149.2 542.9L1149.2 543.8L1151.3 557.1L1153.5 543.8L1153.5 545.0L1155.7 556.1L1157.9 545.0L1157.9 545.0L1160.0 555.0L1162.2 545.0L1162.2 543.6L1164.4 555.7L1166.6 543.6L1166.6 543.6L1168.7 557.0L1170.9 543.6L1170.9 542.9L1173.1 559.3L1175.3 542.9L1175.3 544.8L1177.4 559.2L1179.6 544.8L1179.6 542.0L1181.8 561.0L1184.0 542.0L1184.0 543.2L1186.2 559.4L1188.3 543.2L1188.3 540.8L1190.5 560.5L1192.7 540.8L1192.7 541.1L1194.9 563.7L1197.0 541.1L1197.0 543.6L1199.2 564.0L1201.4 543.6L1201.4 542.6L1203.6 565.5L1205.7 542.6L1205.7 545.3L1207.9 565.3L1210.1 545.3L1210.1 545.5L1212.3 565.5L1214.4 545.5L1214.4 547.0L1216.6 566.1L1218.8 547.0L1218.8 549.5L1221.0 568.7L1223.2 549.5L1223.2 556.6L1225.3 569.6L1227.5 556.6L1227.5 556.8L1229.7 569.8L1231.9 556.8L1231.9 556.5L1234.0 569.9L1236.2 556.5L1236.2 558.4L1238.4 567.5L1240.6 558.4L1240.6 555.6L1242.7 567.1L1244.9 555.6L1244.9 556.0L1247.1 568.5L1249.3 556.0L1249.3 553.4L1251.4 569.6L1253.6 553.4L1253.6 555.9L1255.8 567.8L1258.0 555.9L1258.0 555.1L1260.1 567.3L1262.3 555.1L1262.3 554.8L1264.5 568.3L1266.7 554.8L1266.7 553.7L1268.9 568.5L1271.0 553.7L1271.0 556.3L1273.2 567.9L1275.4 556.3L1275.4 558.3L1277.6 569.3L1279.7 558.3L1279.7 558.0L1281.9 571.1L1284.1 558.0L1284.1 560.2L1286.3 570.1L1288.4 560.2L1288.4 560.4L1290.6 570.3L1292.8 560.4L1292.8 560.9L1295.0 569.4L1297.1 560.9L1297.1 562.2L1299.3 568.3L1301.5 562.2L1301.5 562.6L1303.7 570.5L1305.8 562.6L1305.8 564.0L1308.0 574.6L1310.2 564.0L1310.2 571.8L1312.4 577.6L1314.6 571.8L1314.6 573.2L1316.7 576.7L1318.9 573.2L1318.9 571.3L1321.1 578.0L1323.3 571.3L1323.3 572.8L1325.4 579.3L1327.6 572.8L1327.6 573.1L1329.8 580.3L1332.0 573.1L1332.0 571.1L1334.1 582.2L1336.3 571.1L1336.3 572.6L1338.5 581.6L1340.7 572.6L1340.7 571.9L1342.8 583.8L1345.0 571.9L1345.0 573.0L1347.2 581.9L1349.4 573.0L1349.4 572.3L1351.5 585.4L1353.7 572.3L1353.7 573.0L1355.9 583.3L1358.1 573.0L1358.1 574.1L1360.3 583.7L1362.4 574.1L1362.4 575.8L1364.6 585.6L1366.8 575.8L1366.8 578.9L1369.0 587.8L1371.1 578.9L1371.1 579.3L1373.3 586.4L1375.5 579.3L1375.5 578.9L1377.7 585.8L1379.8 578.9L1379.8 578.9L1382.0 586.9L1384.2 578.9L1384.2 578.2L1386.4 587.3L1388.5 578.2L1388.5 577.3L1390.7 588.3L1392.9 577.3L1392.9 581.2L1395.1 590.3L1397.2 581.2L1397.2 582.4L1399.4 593.8L1401.6 582.4L1401.6 585.0L1403.8 593.7L1406.0 585.0L1406.0 586.4L1408.1 594.4L1410.3 586.4L1410.3 584.7L1412.5 594.7L1414.7 584.7L1414.7 586.0L1416.8 594.8L1419.0 586.0L1419.0 584.6L1421.2 596.1L1423.4 584.6L1423.4 586.0L1425.5 595.0L1427.7 586.0L1427.7 586.3L1429.9 596.5L1432.1 586.3L1432.1 586.0L1434.2 596.5L1436.4 586.0L1436.4 586.0L1438.6 597.4L1440.8 586.0L1440.8 584.3L1443.0 597.4L1445.1 584.3L1445.1 584.3L1447.3 600.2L1449.5 584.3L1449.5 585.2L1451.7 598.7L1453.8 585.2L1453.8 586.5L1456.0 599.9L1458.2 586.5L1458.2 586.4L1460.4 599.6L1462.5 586.4L1462.5 585.1L1464.7 599.6L1466.9 585.1L1466.9 585.8L1469.1 600.9L1471.2 585.8L1471.2 587.9L1473.4 601.3L1475.6 587.9L1475.6 588.6L1477.8 601.2L1479.9 588.6L1479.9 592.8L1482.1 604.5L1484.3 592.8L1484.3 597.2L1486.5 608.3L1488.7 597.2L1488.7 600.4L1490.8 608.6L1493.0 600.4L1493.0 599.2L1495.2 610.8L1497.4 599.2L1497.4 599.0L1499.5 609.2L1501.7 599.0L1501.7 600.7L1503.9 612.0L1506.1 600.7L1506.1 599.0L1508.2 610.6L1510.4 599.0L1510.4 599.6L1512.6 612.3L1514.8 599.6L1514.8 600.9L1516.9 612.2L1519.1 600.9L1519.1 600.4L1521.3 613.4L1523.5 600.4L1523.5 602.3L1525.6 616.9L1527.8 602.3L1527.8 601.7L1530.0 616.9L1532.2 601.7L1532.2 603.0L1534.4 618.6L1536.5 603.0L1536.5 600.9L1538.7 617.8L1540.9 600.9L1540.9 603.4L1543.1 618.7L1545.2 603.4L1545.2 603.5L1547.4 622.1L1549.6 603.5L1549.6 605.3L1551.8 621.8L1553.9 605.3L1553.9 606.2L1556.1 621.5L1558.3 606.2L1558.3 610.2L1560.5 624.6L1562.6 610.2L1562.6 609.4L1564.8 626.2L1567.0 609.4L1567.0 615.4L1569.2 626.9L1571.3 615.4L1571.3 620.1L1573.5 631.3L1575.7 620.1L1575.7 618.4L1577.9 633.8L1580.1 618.4L1580.1 619.7L1582.2 632.4L1584.4 619.7L1584.4 619.3L1586.6 632.0L1588.8 619.3L1588.8 619.3L1590.9 632.9L1593.1 619.3L1593.1 620.7L1595.3 631.9L1597.5 620.7L1597.5 621.8L1599.6 632.2L1601.8 621.8L1601.8 619.6L1604.0 635.0L1606.2 619.6L1606.2 620.2L1608.3 632.7L1610.5 620.2L1610.5 620.0L1612.7 633.0L1614.9 620.0L1614.9 618.9L1617.1 635.7L1619.2 618.9L1619.2 618.6L1621.4 635.1L1623.6 618.6L1623.6 619.7L1625.8 633.5L1627.9 619.7L1627.9 621.1L1630.1 634.6L1632.3 621.1L1632.3 618.4L1634.5 634.2L1636.6 618.4L1636.6 620.2L1638.8 634.5L1641.0 620.2L1641.0 619.7L1643.2 635.8L1645.3 619.7L1645.3 621.4L1647.5 638.0L1649.7 621.4L1649.7 625.3L1651.9 641.1L1654.0 625.3L1654.0 629.5L1656.2 644.6L1658.4 629.5L1658.4 637.9L1660.6 650.6L1662.8 637.9L1662.8 640.8L1664.9 650.2L1667.1 640.8L1667.1 640.8L1669.3 651.9L1671.5 640.8L1671.5 640.2L1673.6 654.1L1675.8 640.2L1675.8 641.7L1678.0 653.0L1680.2 641.7L1680.2 640.5L1682.3 652.7L1684.5 640.5L1684.5 641.6L1686.7 653.7L1688.9 641.6L1688.9 640.3L1691.0 653.4L1693.2 640.3L1693.2 640.5L1695.4 652.6L1697.6 640.5L1697.6 641.9L1699.7 651.2L1701.9 641.9L1701.9 640.2L1704.1 650.1L1706.3 640.2L1706.3 640.8L1708.5 649.1L1710.6 640.8L1710.6 638.2L1712.8 649.7L1715.0 638.2L1715.0 638.7L1717.2 648.5L1719.3 638.7L1719.3 635.4L1721.5 650.6L1723.7 635.4L1723.7 634.1L1725.9 648.2L1728.0 634.1L1728.0 634.0L1730.2 648.8L1732.4 634.0L1732.4 631.4L1734.6 650.1L1736.7 631.4L1736.7 631.4L1738.9 649.1L1741.1 631.4L1741.1 632.8L1743.3 651.0L1745.4 632.8L1745.4 636.9L1747.6 653.9L1749.8 636.9L1749.8 638.5L1752.0 651.7L1754.2 638.5L1754.2 639.5L1756.3 652.2L1758.5 639.5L1758.5 642.8L1760.7 653.2L1762.9 642.8L1762.9 643.1L1765.0 654.7L1767.2 643.1L1767.2 641.8L1769.4 654.4L1771.6 641.8L1771.6 644.9L1773.7 653.4L1775.9 644.9L1775.9 646.1L1778.1 654.7L1780.3 646.1L1780.3 645.6L1782.4 656.4L1784.6 645.6L1784.6 645.3L1786.8 656.7L1789.0 645.3L1789.0 646.4L1791.2 655.9L1793.3 646.4L1793.3 646.6L1795.5 655.7L1797.7 646.6L1797.7 647.7L1799.9 657.4L1802.0 647.7L1802.0 650.6L1804.2 655.8L1806.4 650.6L1806.4 648.2L1808.6 657.9L1810.7 648.2L1810.7 651.7L1812.9 659.3L1815.1 651.7L1815.1 651.9L1817.3 659.0L1819.4 651.9L1819.4 651.7L1821.6 657.1L1823.8 651.7L1823.8 653.5L1826.0 659.3L1828.1 653.5L1828.1 654.2L1830.3 660.1L1832.5 654.2L1832.5 658.4L1834.7 668.1L1836.9 658.4L1836.9 660.9L1839.0 669.3L1841.2 660.9L1841.2 660.1L1843.4 668.7L1845.6 660.1L1845.6 660.2L1847.7 668.4L1849.9 660.2L1849.9 658.3L1852.1 669.7L1854.3 658.3L1854.3 656.9L1856.4 671.1L1858.6 656.9L1858.6 656.0L1860.8 670.1L1863.0 656.0L1863.0 657.2L1865.1 669.2L1867.3 657.2L1867.3 655.4L1869.5 669.5L1871.7 655.4L1871.7 654.2L1873.8 667.4L1876.0 654.2L1876.0 653.7L1878.2 668.4L1880.4 653.7L1880.4 652.1L1882.6 667.7L1884.7 652.1L1884.7 650.4L1886.9 666.5L1889.1 650.4L1889.1 651.3L1891.3 665.2L1893.4 651.3L1893.4 650.7L1895.6 664.9L1897.8 650.7L1897.8 651.2L1900.0 666.4L1902.1 651.2L1902.1 651.7L1904.3 666.5L1906.5 651.7L1906.5 650.7L1908.7 666.7L1910.8 650.7L1910.8 650.6L1913.0 668.2L1915.2 650.6L1915.2 653.0L1917.4 670.0L1919.6 653.0L1919.6 659.7L1921.7 674.2L1923.9 659.7L1923.9 661.0L1926.1 672.8L1928.3 661.0L1928.3 662.5L1930.4 676.6L1932.6 662.5L1932.6 666.5L1934.8 676.1L1937.0 666.5L1937.0 669.6L1939.1 676.9L1941.3 669.6L1941.3 670.4L1943.5 677.2L1945.7 670.4L1945.7 670.3L1947.8 676.7L1950.0 670.3L1950.0 672.2L1952.2 678.2L1954.4 672.2L1954.4 670.6L1956.5 675.5L1958.7 670.6L1958.7 672.3L1960.9 675.5L1963.1 672.3L1963.1 671.7L1965.3 675.1L1967.4 671.7L1967.4 670.8L1969.6 675.4L1971.8 670.8L1971.8 668.5L1974.0 674.4L1976.1 668.5L1976.1 669.5L1978.3 675.8L1980.5 669.5L1980.5 670.3L1982.7 675.8L1984.8 670.3L1984.8 670.8L1987.0 674.8L1989.2 670.8L1989.2 671.4L1991.4 676.8L1993.5 671.4L1993.5 670.8L1995.7 675.8L1997.9 670.8L1997.9 669.8L2000.1 674.5L2002.2 669.8L2002.2 670.2L2004.4 675.7L2006.6 670.2" stroke="#b2df8a" stroke-opacity="0.8" stroke-width="7.6" fill="none" stroke-linejoin="round"/>
<path d="M260.0 117.0L265.6 121.0L265.6 278.1L267.8 280.7L270.0 278.1L270.0 394.8L272.1 397.0L274.3 394.8L274.3 484.6L276.5 486.0L278.7 484.6L278.7 547.1L280.8 549.5L283.0 547.1L283.0 594.0L285.2 596.3L287.4 594.0L287.4 619.3L289.5 621.3L291.7 619.3L291.7 629.7L293.9 631.0L296.1 629.7L296.1 613.8L298.2 613.9L300.4 613.8L300.4 585.9L302.6 587.4L304.8 585.9L304.8 549.2L306.9 550.5L309.1 549.2L309.1 517.5L311.3 517.5L313.5 517.5L313.5 479.1L315.7 479.9L317.8 479.1L317.8 438.6L320.0 438.6L322.2 438.6L322.2 401.7L324.4 404.7L326.5 401.7L326.5 370.1L328.7 372.2L330.9 370.1L330.9 335.2L333.1 338.1L335.2 335.2L335.2 302.0L337.4 303.4L339.6 302.0L339.6 273.0L341.8 275.3L343.9 273.0L343.9 247.3L346.1 247.7L348.3 247.3L348.3 229.4L350.5 230.4L352.7 229.4L352.7 234.7L354.8 236.4L357.0 234.7L357.0 250.4L359.2 252.5L361.4 250.4L361.4 288.3L363.5 288.7L365.7 288.3L365.7 321.1L367.9 324.4L370.1 321.1L370.1 358.1L372.2 360.0L374.4 358.1L374.4 397.4L376.6 400.3L378.8 397.4L378.8 434.8L380.9 438.5L383.1 434.8L383.1 472.8L385.3 475.4L387.5 472.8L387.5 507.5L389.6 509.6L391.8 507.5L391.8 537.6L394.0 538.7L396.2 537.6L396.2 557.4L398.4 559.0L400.5 557.4L400.5 569.2L402.7 570.2L404.9 569.2L404.9 563.6L407.1 567.6L409.2 563.6L409.2 550.4L411.4 551.9L413.6 550.4L413.6 533.5L415.8 535.9L417.9 533.5L417.9 514.7L420.1 517.0L422.3 514.7L422.3 495.4L424.5 498.4L426.6 495.4L426.6 476.9L428.8 477.8L431.0 476.9L431.0 457.5L433.2 457.5L435.3 457.5L435.3 435.0L437.5 437.7L439.7 435.0L439.7 415.4L441.9 415.8L444.1 415.4L444.1 393.6L446.2 396.8L448.4 393.6L448.4 384.3L450.6 385.0L452.8 384.3L452.8 378.6L454.9 381.2L457.1 378.6L457.1 379.4L459.3 382.2L461.5 379.4L461.5 384.4L463.6 388.1L465.8 384.4L465.8 397.8L468.0 400.4L470.2 397.8L470.2 416.0L472.3 417.1L474.5 416.0L474.5 433.6L476.7 434.8L478.9 433.6L478.9 451.3L481.0 451.8L483.2 451.3L483.2 468.5L485.4 470.5L487.6 468.5L487.6 485.0L489.8 487.4L491.9 485.0L491.9 501.5L494.1 504.2L496.3 501.5L496.3 513.8L498.5 514.6L500.6 513.8L500.6 521.4L502.8 523.2L505.0 521.4L505.0 526.3L507.2 528.8L509.3 526.3L509.3 529.0L511.5 532.2L513.7 529.0L513.7 528.8L515.9 531.9L518.0 528.8L518.0 524.4L520.2 528.2L522.4 524.4L522.4 515.6L524.6 518.9L526.8 515.6L526.8 503.4L528.9 505.7L531.1 503.4L531.1 492.5L533.3 493.9L535.5 492.5L535.5 478.7L537.6 479.9L539.8 478.7L539.8 467.4L542.0 468.8L544.2 467.4L544.2 454.7L546.3 457.5L548.5 454.7L548.5 448.5L550.7 449.3L552.9 448.5L552.9 442.7L555.0 446.2L557.2 442.7L557.2 442.2L559.4 442.8L561.6 442.2L561.6 439.2L563.7 442.3L565.9 439.2L565.9 441.8L568.1 443.8L570.3 441.8L570.3 443.9L572.5 445.8L574.6 443.9L574.6 450.2L576.8 450.5L579.0 450.2L579.0 457.5L581.2 460.3L583.3 457.5L583.3 465.7L585.5 467.1L587.7 465.7L587.7 475.4L589.9 477.1L592.0 475.4L592.0 484.8L594.2 485.4L596.4 484.8L596.4 492.2L598.6 494.1L600.7 492.2L600.7 497.9L602.9 500.4L605.1 497.9L605.1 501.5L607.3 503.4L609.4 501.5L609.4 504.3L611.6 506.3L613.8 504.3L613.8 505.6L616.0 506.4L618.2 505.6L618.2 504.3L620.3 507.4L622.5 504.3L622.5 502.0L624.7 503.6L626.9 502.0L626.9 497.2L629.0 499.2L631.2 497.2L631.2 491.0L633.4 495.1L635.6 491.0L635.6 486.4L637.7 488.8L639.9 486.4L639.9 481.3L642.1 483.0L644.3 481.3L644.3 474.4L646.4 477.3L648.6 474.4L648.6 471.2L650.8 472.4L653.0 471.2L653.0 467.9L655.1 470.9L657.3 467.9L657.3 467.1L659.5 467.1L661.7 467.1L661.7 464.8L663.9 464.8L666.0 464.8L666.0 462.5L668.2 464.5L670.4 462.5L670.4 463.0L672.6 464.3L674.7 463.0L674.7 464.7L676.9 466.3L679.1 464.7L679.1 468.1L681.3 470.5L683.4 468.1L683.4 471.4L685.6 472.2L687.8 471.4L687.8 474.3L690.0 476.0L692.1 474.3L692.1 480.1L694.3 480.8L696.5 480.1L696.5 481.9L698.7 485.0L700.8 481.9L700.9 486.1L703.0 489.0L705.2 486.1L705.2 489.0L707.4 491.4L709.6 489.0L709.6 492.1L711.7 493.3L713.9 492.1L713.9 492.5L716.1 495.2L718.3 492.5L718.3 494.9L720.4 496.0L722.6 494.9L722.6 497.0L724.8 498.6L727.0 497.0L727.0 495.7L729.1 499.4L731.3 495.7L731.3 497.0L733.5 498.6L735.7 497.0L735.7 495.2L737.8 497.1L740.0 495.2L740.0 492.9L742.2 494.7L744.4 492.9L744.4 493.6L746.6 494.6L748.7 493.6L748.7 491.9L750.9 494.1L753.1 491.9L753.1 491.6L755.3 493.1L757.4 491.6L757.4 489.2L759.6 491.4L761.8 489.2L761.8 487.2L764.0 490.8L766.1 487.2L766.1 486.7L768.3 487.3L770.5 486.7L770.5 486.2L772.7 488.8L774.8 486.2L774.8 486.2L777.0 487.6L779.2 486.2L779.2 485.1L781.4 488.1L783.5 485.1L783.5 485.7L785.7 486.5L787.9 485.7L787.9 486.9L790.1 489.1L792.3 486.9L792.3 486.9L794.4 488.7L796.6 486.9L796.6 488.4L798.8 489.4L801.0 488.4L801.0 491.5L803.1 491.9L805.3 491.5L805.3 493.5L807.5 494.7L809.7 493.5L809.7 494.6L811.8 498.3L814.0 494.6L814.0 498.9L816.2 499.6L818.4 498.9L818.4 501.3L820.5 501.8L822.7 501.3L822.7 502.4L824.9 504.8L827.1 502.4L827.1 504.6L829.2 506.5L831.4 504.6L831.4 505.0L833.6 508.7L835.8 505.0L835.8 507.0L838.0 510.4L840.1 507.0L840.1 508.2L842.3 510.7L844.5 508.2L844.5 508.7L846.7 512.5L848.8 508.7L848.8 510.0L851.0 512.0L853.2 510.0L853.2 510.1L855.4 512.0L857.5 510.1L857.5 511.8L859.7 515.2L861.9 511.8L861.9 512.1L864.1 515.8L866.2 512.1L866.2 511.3L868.4 515.1L870.6 511.3L870.6 511.9L872.8 515.1L875.0 511.9L875.0 513.2L877.1 517.2L879.3 513.2L879.3 515.0L881.5 518.8L883.7 515.0L883.7 514.0L885.8 519.4L888.0 514.0L888.0 516.3L890.2 519.4L892.4 516.3L892.4 516.5L894.5 520.9L896.7 516.5L896.7 516.0L898.9 518.9L901.1 516.0L901.1 515.3L903.2 520.3L905.4 515.3L905.4 516.7L907.6 519.9L909.8 516.7L909.8 516.0L911.9 521.2L914.1 516.0L914.1 517.4L916.3 521.8L918.5 517.4L918.5 517.6L920.7 521.7L922.8 517.6L922.8 517.6L925.0 521.4L927.2 517.6L927.2 518.5L929.4 522.5L931.5 518.5L931.5 518.0L933.7 522.3L935.9 518.0L935.9 518.1L938.1 523.6L940.2 518.1L940.2 518.7L942.4 523.6L944.6 518.7L944.6 521.3L946.8 525.1L948.9 521.3L948.9 521.2L951.1 525.4L953.3 521.2L953.3 521.8L955.5 526.5L957.6 521.8L957.6 521.4L959.8 526.6L962.0 521.4L962.0 524.5L964.2 528.4L966.4 524.5L966.4 528.4L968.5 532.1L970.7 528.4L970.7 527.0L972.9 531.6L975.1 527.0L975.1 528.1L977.2 531.8L979.4 528.1L979.4 527.2L981.6 530.4L983.8 527.2L983.8 527.2L985.9 531.2L988.1 527.2L988.1 525.4L990.3 528.6L992.5 525.4L992.5 522.8L994.6 528.5L996.8 522.8L996.8 525.8L999.0 530.3L1001.2 525.8L1001.2 526.2L1003.3 530.8L1005.5 526.2L1005.5 528.3L1007.7 532.5L1009.9 528.3L1009.9 529.6L1012.1 532.1L1014.2 529.6L1014.2 529.3L1016.4 533.9L1018.6 529.3L1018.6 530.5L1020.8 532.7L1022.9 530.5L1022.9 529.4L1025.1 533.7L1027.3 529.4L1027.3 529.9L1029.5 533.8L1031.6 529.9L1031.6 532.0L1033.8 535.2L1036.0 532.0L1036.0 532.1L1038.2 535.5L1040.3 532.1L1040.3 530.6L1042.5 535.7L1044.7 530.6L1044.7 531.5L1046.9 535.7L1049.0 531.5L1049.1 533.9L1051.2 537.0L1053.4 533.9L1053.4 534.9L1055.6 538.0L1057.8 534.9L1057.8 534.8L1059.9 539.4L1062.1 534.8L1062.1 536.5L1064.3 542.6L1066.5 536.5L1066.5 539.9L1068.6 542.9L1070.8 539.9L1070.8 541.1L1073.0 543.7L1075.2 541.1L1075.2 542.5L1077.3 544.9L1079.5 542.5L1079.5 543.0L1081.7 546.4L1083.9 543.0L1083.9 542.9L1086.0 547.7L1088.2 542.9L1088.2 543.4L1090.4 548.5L1092.6 543.4L1092.6 545.8L1094.8 549.5L1096.9 545.8L1096.9 544.1L1099.1 547.8L1101.3 544.1L1101.3 545.4L1103.5 550.4L1105.6 545.4L1105.6 546.2L1107.8 550.6L1110.0 546.2L1110.0 546.3L1112.2 549.6L1114.3 546.3L1114.3 545.8L1116.5 550.7L1118.7 545.8L1118.7 547.0L1120.9 551.1L1123.0 547.0L1123.0 545.5L1125.2 549.8L1127.4 545.5L1127.4 545.1L1129.6 549.5L1131.7 545.1L1131.7 546.1L1133.9 551.1L1136.1 546.1L1136.1 547.4L1138.3 551.1L1140.5 547.4L1140.5 546.6L1142.6 550.5L1144.8 546.6L1144.8 545.9L1147.0 551.3L1149.2 545.9L1149.2 547.8L1151.3 552.7L1153.5 547.8L1153.5 550.1L1155.7 553.9L1157.9 550.1L1157.9 552.2L1160.0 554.7L1162.2 552.2L1162.2 553.2L1164.4 556.2L1166.6 553.2L1166.6 554.8L1168.7 559.1L1170.9 554.8L1170.9 557.7L1173.1 560.2L1175.3 557.7L1175.3 559.1L1177.4 563.6L1179.6 559.1L1179.6 559.4L1181.8 563.1L1184.0 559.4L1184.0 562.1L1186.2 564.7L1188.3 562.1L1188.3 562.1L1190.5 566.5L1192.7 562.1L1192.7 564.4L1194.9 568.1L1197.0 564.4L1197.0 564.3L1199.2 567.7L1201.4 564.3L1201.4 566.4L1203.6 569.3L1205.7 566.4L1205.7 565.8L1207.9 570.7L1210.1 565.8L1210.1 567.2L1212.3 570.3L1214.4 567.2L1214.4 567.3L1216.6 573.2L1218.8 567.3L1218.8 569.6L1221.0 571.8L1223.2 569.6L1223.2 568.9L1225.3 572.9L1227.5 568.9L1227.5 570.0L1229.7 575.0L1231.9 570.0L1231.9 570.6L1234.0 573.4L1236.2 570.6L1236.2 572.0L1238.4 573.9L1240.6 572.0L1240.6 571.1L1242.7 575.7L1244.9 571.1L1244.9 572.0L1247.1 575.1L1249.3 572.0L1249.3 572.5L1251.4 576.6L1253.6 572.5L1253.6 571.9L1255.8 578.0L1258.0 571.9L1258.0 573.5L1260.1 577.6L1262.3 573.5L1262.3 574.3L1264.5 579.2L1266.7 574.3L1266.7 574.6L1268.9 580.1L1271.0 574.6L1271.0 575.5L1273.2 580.1L1275.4 575.5L1275.4 576.7L1277.6 578.9L1279.7 576.7L1279.7 576.6L1281.9 579.5L1284.1 576.6L1284.1 576.4L1286.3 580.8L1288.4 576.4L1288.4 576.7L1290.6 582.5L1292.8 576.7L1292.8 577.4L1295.0 581.4L1297.1 577.4L1297.1 579.2L1299.3 582.4L1301.5 579.2L1301.5 581.4L1303.7 585.5L1305.8 581.4L1305.8 581.7L1308.0 586.3L1310.2 581.7L1310.2 582.4L1312.4 586.4L1314.6 582.4L1314.6 583.4L1316.7 588.8L1318.9 583.4L1318.9 585.8L1321.1 587.8L1323.3 585.8L1323.3 585.9L1325.4 590.7L1327.6 585.9L1327.6 589.0L1329.8 592.8L1332.0 589.0L1332.0 590.7L1334.1 594.0L1336.3 590.7L1336.3 592.1L1338.5 598.0L1340.7 592.1L1340.7 594.4L1342.8 597.6L1345.0 594.4L1345.0 594.1L1347.2 597.6L1349.4 594.1L1349.4 593.4L1351.5 599.3L1353.7 593.4L1353.7 593.7L1355.9 598.2L1358.1 593.7L1358.1 592.8L1360.3 598.3L1362.4 592.8L1362.4 592.3L1364.6 596.6L1366.8 592.3L1366.8 591.6L1369.0 595.7L1371.1 591.6L1371.1 591.7L1373.3 596.7L1375.5 591.7L1375.5 592.5L1377.7 594.9L1379.8 592.5L1379.8 590.2L1382.0 594.1L1384.2 590.2L1384.2 590.3L1386.4 595.3L1388.5 590.3L1388.5 589.4L1390.7 592.0L1392.9 589.4L1392.9 590.9L1395.1 593.6L1397.2 590.9L1397.2 591.0L1399.4 596.9L1401.6 591.0L1401.6 593.0L1403.8 597.2L1406.0 593.0L1406.0 597.2L1408.1 600.9L1410.3 597.2L1410.3 597.0L1412.5 601.1L1414.7 597.0L1414.7 597.4L1416.8 602.3L1419.0 597.4L1419.0 598.6L1421.2 601.9L1423.4 598.6L1423.4 599.1L1425.5 604.6L1427.7 599.1L1427.7 600.4L1429.9 604.4L1432.1 600.4L1432.1 601.6L1434.2 607.2L1436.4 601.6L1436.4 604.9L1438.6 608.1L1440.8 604.9L1440.8 603.4L1443.0 607.7L1445.1 603.4L1445.1 604.2L1447.3 608.1L1449.5 604.2L1449.5 604.7L1451.7 608.7L1453.8 604.7L1453.8 605.6L1456.0 608.1L1458.2 605.6L1458.2 604.2L1460.4 609.9L1462.5 604.2L1462.5 604.4L1464.7 609.3L1466.9 604.4L1466.9 605.2L1469.1 609.2L1471.2 605.2L1471.2 606.8L1473.4 609.1L1475.6 606.8L1475.6 605.2L1477.8 609.3L1479.9 605.2L1479.9 608.2L1482.1 611.1L1484.3 608.2L1484.3 606.5L1486.5 610.8L1488.7 606.5L1488.7 605.7L1490.8 610.8L1493.0 605.7L1493.0 604.7L1495.2 609.9L1497.4 604.7L1497.4 604.9L1499.5 607.7L1501.7 604.9L1501.7 602.8L1503.9 605.1L1506.1 602.8L1506.1 600.5L1508.2 602.9L1510.4 600.5L1510.4 598.6L1512.6 603.4L1514.8 598.6L1514.8 598.8L1516.9 601.2L1519.1 598.8L1519.1 598.9L1521.3 603.2L1523.5 598.9L1523.5 600.2L1525.6 604.5L1527.8 600.2L1527.8 600.6L1530.0 606.2L1532.2 600.6L1532.2 602.3L1534.4 607.1L1536.5 602.3L1536.5 605.0L1538.7 607.6L1540.9 605.0L1540.9 606.3L1543.1 610.5L1545.2 606.3L1545.2 607.0L1547.4 612.1L1549.6 607.0L1549.6 610.2L1551.8 615.3L1553.9 610.2L1553.9 613.1L1556.1 616.0L1558.3 613.1L1558.3 614.9L1560.5 618.2L1562.6 614.9L1562.6 615.9L1564.8 619.9L1567.0 615.9L1567.0 614.6L1569.2 619.3L1571.3 614.6L1571.3 614.1L1573.5 616.9L1575.7 614.1L1575.7 611.8L1577.9 616.6L1580.1 611.8L1580.1 612.5L1582.2 616.3L1584.4 612.5L1584.4 611.2L1586.6 615.1L1588.8 611.2L1588.8 611.8L1590.9 615.4L1593.1 611.8L1593.1 611.7L1595.3 616.9L1597.5 611.7L1597.5 610.8L1599.6 616.6L1601.8 610.8L1601.8 613.8L1604.0 616.1L1606.2 613.8L1606.2 614.4L1608.3 617.4L1610.5 614.4L1610.5 614.5L1612.7 618.7L1614.9 614.5L1614.9 616.6L1617.1 619.1L1619.2 616.6L1619.2 617.3L1621.4 621.0L1623.6 617.3L1623.6 619.2L1625.8 623.1L1627.9 619.2L1627.9 620.4L1630.1 624.8L1632.3 620.4L1632.3 620.7L1634.5 623.5L1636.6 620.7L1636.6 622.9L1638.8 624.7L1641.0 622.9L1641.0 624.0L1643.2 627.6L1645.3 624.0L1645.3 623.2L1647.5 627.6L1649.7 623.2L1649.7 625.8L1651.9 629.4L1654.0 625.8L1654.0 627.9L1656.2 630.0L1658.4 627.9L1658.4 630.8L1660.6 633.7L1662.8 630.8L1662.8 634.3L1664.9 639.2L1667.1 634.3L1667.1 639.2L1669.3 641.4L1671.5 639.2L1671.5 642.6L1673.6 645.0L1675.8 642.6L1675.8 645.1L1678.0 647.9L1680.2 645.1L1680.2 644.5L1682.3 649.6L1684.5 644.5L1684.5 645.2L1686.7 651.3L1688.9 645.2L1688.9 648.0L1691.0 652.1L1693.2 648.0L1693.2 646.2L1695.4 649.9L1697.6 646.2L1697.6 647.3L1699.7 651.2L1701.9 647.3L1701.9 647.0L1704.1 651.0L1706.3 647.0L1706.3 646.5L1708.5 648.9L1710.6 646.5L1710.6 647.0L1712.8 651.5L1715.0 647.0L1715.0 645.7L1717.2 649.8L1719.3 645.7L1719.3 644.7L1721.5 650.0L1723.7 644.7L1723.7 644.5L1725.9 647.0L1728.0 644.5L1728.0 643.3L1730.2 646.7L1732.4 643.3L1732.4 643.0L1734.6 646.6L1736.7 643.0L1736.7 641.0L1738.9 644.6L1741.1 641.0L1741.1 641.3L1743.3 647.0L1745.4 641.3L1745.4 644.2L1747.6 647.3L1749.8 644.2L1749.8 646.3L1752.0 648.2L1754.2 646.3L1754.2 647.7L1756.3 650.0L1758.5 647.7L1758.5 648.7L1760.7 651.6L1762.9 648.7L1762.9 648.7L1765.0 653.2L1767.2 648.7L1767.2 651.4L1769.4 655.3L1771.6 651.4L1771.6 652.0L1773.7 654.9L1775.9 652.0L1775.9 652.9L1778.1 655.0L1780.3 652.9L1780.3 651.9L1782.4 657.9L1784.6 651.9L1784.6 653.5L1786.8 658.0L1789.0 653.5L1789.0 654.4L1791.2 657.5L1793.3 654.4L1793.3 655.1L1795.5 660.2L1797.7 655.1L1797.7 657.0L1799.9 661.7L1802.0 657.0L1802.0 659.5L1804.2 662.4L1806.4 659.5L1806.4 661.0L1808.6 664.3L1810.7 661.0L1810.7 663.0L1812.9 665.8L1815.1 663.0L1815.1 664.7L1817.3 667.6L1819.4 664.7L1819.4 665.8L1821.6 669.9L1823.8 665.8L1823.8 666.4L1826.0 669.2L1828.1 666.4L1828.1 664.5L1830.3 668.2L1832.5 664.5L1832.5 665.6L1834.7 667.7L1836.9 665.6L1836.9 663.7L1839.0 666.8L1841.2 663.7L1841.2 661.9L1843.4 667.2L1845.6 661.9L1845.6 662.1L1847.7 664.9L1849.9 662.1L1849.9 662.8L1852.1 664.9L1854.3 662.8L1854.3 662.1L1856.4 666.8L1858.6 662.1L1858.6 662.3L1860.8 667.4L1863.0 662.3L1863.0 662.8L1865.1 667.4L1867.3 662.8L1867.3 666.3L1869.5 670.1L1871.7 666.3L1871.7 666.7L1873.8 670.2L1876.0 666.7L1876.0 666.3L1878.2 672.1L1880.4 666.3L1880.4 667.1L1882.6 672.3L1884.7 667.1L1884.7 668.1L1886.9 672.6L1889.1 668.1L1889.1 668.0L1891.3 673.0L1893.4 668.0L1893.4 670.4L1895.6 673.3L1897.8 670.4L1897.8 670.4L1900.0 673.5L1902.1 670.4L1902.1 672.1L1904.3 675.7L1906.5 672.1L1906.5 672.1L1908.7 678.2L1910.8 672.1L1910.8 676.5L1913.0 679.8L1915.2 676.5L1915.2 679.1L1917.4 683.0L1919.6 679.1L1919.6 680.7L1921.7 685.0L1923.9 680.7L1923.9 680.3L1926.1 684.7L1928.3 680.3L1928.3 683.5L1930.4 687.7L1932.6 683.5L1932.6 683.1L1934.8 687.9L1937.0 683.1L1937.0 683.8L1939.1 689.2L1941.3 683.8L1941.3 684.3L1943.5 689.1L1945.7 684.3L1945.7 685.2L1947.8 688.3L1950.0 685.2L1950.0 686.3L1952.2 689.9L1954.4 686.3L1954.4 684.2L1956.5 688.5L1958.7 684.2L1958.7 683.6L1960.9 689.6L1963.1 683.6L1963.1 683.4L1965.3 689.5L1967.4 683.4L1967.4 683.5L1969.6 688.3L1971.8 683.5L1971.8 683.5L1974.0 688.4L1976.1 683.5L1976.1 684.5L1978.3 689.0L1980.5 684.5L1980.5 683.9L1982.7 687.3L1984.8 683.9L1984.8 684.4L1987.0 686.7L1989.2 684.4L1989.2 684.0L1991.4 686.5L1993.5 684.0L1993.5 684.3L1995.7 688.3L1997.9 684.3L1997.9 683.6L2000.1 687.2L2002.2 683.6L2002.2 681.5L2004.4 685.9L2006.6 681.5" stroke="#1f78b4" stroke-opacity="0.8" stroke-width="7.6" fill="none" stroke-linejoin="round"/>
<path d="M260.0 119.0L265.6 124.0L265.6 279.0L267.8 280.7L270.0 279.0L270.0 393.0L272.1 396.3L274.3 393.0L274.3 482.4L276.5 486.6L278.7 482.4L278.7 544.9L280.8 548.9L283.0 544.9L283.0 591.3L285.2 596.1L287.4 591.3L287.4 616.6L289.5 620.2L291.7 616.6L291.7 624.5L293.9 630.4L296.1 624.5L296.1 610.3L298.2 612.7L300.4 610.3L300.4 582.3L302.6 584.3L304.8 582.3L304.8 544.5L306.9 548.7L309.1 544.5L309.1 511.9L311.3 514.0L313.5 511.9L313.5 472.6L315.7 475.0L317.8 472.6L317.8 429.6L320.0 433.2L322.2 429.6L322.2 394.1L324.4 397.7L326.5 394.1L326.5 362.0L328.7 363.6L330.9 362.0L330.9 327.0L333.1 330.3L335.2 327.0L335.2 290.9L337.4 295.5L339.6 290.9L339.6 262.9L341.8 267.2L343.9 262.9L343.9 234.1L346.1 237.5L348.3 234.1L348.3 215.9L350.5 220.6L352.7 215.9L352.7 221.0L354.8 226.0L357.0 221.0L357.0 238.6L359.2 243.0L361.4 238.6L361.4 276.4L363.5 281.1L365.7 276.4L365.7 311.8L367.9 316.0L370.1 311.8L370.1 351.2L372.2 352.6L374.4 351.2L374.4 387.7L376.6 392.0L378.8 387.7L378.8 428.6L380.9 431.4L383.1 428.6L383.1 465.5L385.3 470.3L387.5 465.5L387.5 502.2L389.6 505.7L391.8 502.2L391.8 533.6L394.0 536.4L396.2 533.6L396.2 552.7L398.4 558.6L400.5 552.7L400.5 566.1L402.7 568.3L404.9 566.1L404.9 561.2L407.1 563.9L409.2 561.2L409.2 546.6L411.4 552.4L413.6 546.6L413.6 528.7L415.8 532.6L417.9 528.7L417.9 508.6L420.1 512.5L422.3 508.6L422.3 488.7L424.5 492.4L426.6 488.7L426.6 471.0L428.8 474.5L431.0 471.0L431.0 448.3L433.2 452.5L435.3 448.3L435.3 429.0L437.5 432.5L439.7 429.0L439.7 405.1L441.9 411.3L444.1 405.1L444.1 385.8L446.2 389.3L448.4 385.8L448.4 373.1L450.6 377.0L452.8 373.1L452.8 368.1L454.9 371.7L457.1 368.1L457.1 368.8L459.3 373.1L461.5 368.8L461.5 375.2L463.6 379.0L465.8 375.2L465.8 390.6L468.0 393.7L470.2 390.6L470.2 407.5L472.3 409.8L474.5 407.5L474.5 423.7L476.7 428.8L478.9 423.7L478.9 441.8L481.0 448.0L483.2 441.8L483.2 460.7L485.4 466.2L487.6 460.7L487.6 478.6L489.8 483.5L491.9 478.6L491.9 494.3L494.1 499.4L496.3 494.3L496.3 507.3L498.5 512.2L500.6 507.3L500.6 516.0L502.8 519.2L505.0 516.0L505.0 523.3L507.2 525.1L509.3 523.3L509.3 523.9L511.5 530.3L513.7 523.9L513.7 525.7L515.9 527.7L518.0 525.7L518.0 519.7L520.2 524.4L522.4 519.7L522.4 510.6L524.6 515.4L526.8 510.6L526.8 500.3L528.9 503.7L531.1 500.3L531.1 486.3L533.3 489.1L535.5 486.3L535.5 473.1L537.6 478.1L539.8 473.1L539.8 461.0L542.0 464.4L544.2 461.0L544.2 449.5L546.3 453.6L548.5 449.5L548.5 440.1L550.7 444.2L552.9 440.1L552.9 436.7L555.0 440.3L557.2 436.7L557.2 434.1L559.4 436.7L561.6 434.1L561.6 432.2L563.7 435.9L565.9 432.2L565.9 433.2L568.1 435.5L570.3 433.2L570.3 434.5L572.5 439.5L574.6 434.5L574.6 439.9L576.8 444.8L579.0 439.9L579.0 448.3L581.2 452.5L583.3 448.3L583.3 457.9L585.5 461.4L587.7 457.9L587.7 466.8L589.9 470.2L592.0 466.8L592.0 474.3L594.2 479.7L596.4 474.3L596.4 483.3L598.6 486.7L600.7 483.3L600.7 488.8L602.9 494.3L605.1 488.8L605.1 494.7L607.3 497.9L609.4 494.7L609.4 495.4L611.6 499.9L613.8 495.4L613.8 498.2L616.0 500.5L618.2 498.2L618.2 495.8L620.3 499.9L622.5 495.8L622.5 492.9L624.7 496.2L626.9 492.9L626.9 488.1L629.0 491.7L631.2 488.1L631.2 482.3L633.4 485.5L635.6 482.3L635.6 475.2L637.7 479.5L639.9 475.2L639.9 470.4L642.1 474.2L644.3 470.4L644.3 465.4L646.4 468.1L648.6 465.4L648.6 460.2L650.8 465.0L653.0 460.2L653.0 457.5L655.1 462.9L657.3 457.5L657.3 454.7L659.5 460.8L661.7 454.7L661.7 453.4L663.9 458.4L666.0 453.4L666.0 454.5L668.2 458.5L670.4 454.5L670.4 453.3L672.6 458.9L674.7 453.3L674.7 454.7L676.9 459.6L679.1 454.7L679.1 459.2L681.3 462.7L683.4 459.2L683.4 461.3L685.6 464.7L687.8 461.3L687.8 464.7L690.0 468.8L692.1 464.7L692.1 469.9L694.3 471.9L696.5 469.9L696.5 473.4L698.7 477.4L700.8 473.4L700.9 475.9L703.0 481.4L705.2 475.9L705.2 480.4L707.4 483.1L709.6 480.4L709.6 481.2L711.7 485.5L713.9 481.2L713.9 484.0L716.1 488.1L718.3 484.0L718.3 485.4L720.4 490.3L722.6 485.4L722.6 486.4L724.8 492.1L727.0 486.4L727.0 487.4L729.1 490.3L731.3 487.4L731.3 486.3L733.5 491.2L735.7 486.3L735.7 486.7L737.8 489.1L740.0 486.7L740.0 485.8L742.2 487.6L744.4 485.8L744.4 484.6L746.6 486.6L748.7 484.6L748.7 482.4L750.9 486.8L753.1 482.4L753.1 480.2L755.3 484.7L757.4 480.2L757.4 478.5L759.6 484.5L761.8 478.5L761.8 478.1L764.0 482.6L766.1 478.1L766.1 476.7L768.3 481.8L770.5 476.7L770.5 476.0L772.7 479.6L774.8 476.0L774.8 476.1L777.0 479.8L779.2 476.1L779.2 475.0L781.4 477.9L783.5 475.0L783.5 476.4L785.7 478.1L787.9 476.4L787.9 476.0L790.1 481.0L792.3 476.0L792.3 476.6L794.4 480.9L796.6 476.6L796.6 477.6L798.8 481.6L801.0 477.6L801.0 481.1L803.1 484.1L805.3 481.1L805.3 481.9L807.5 488.0L809.7 481.9L809.7 484.6L811.8 489.0L814.0 484.6L814.0 487.7L816.2 491.5L818.4 487.7L818.4 489.3L820.5 493.5L822.7 489.3L822.7 492.7L824.9 495.5L827.1 492.7L827.1 492.3L829.2 495.7L831.4 492.3L831.4 493.2L833.6 497.0L835.8 493.2L835.8 495.4L838.0 498.0L840.1 495.4L840.1 495.8L842.3 498.7L844.5 495.8L844.5 495.4L846.7 500.4L848.8 495.4L848.8 495.6L851.0 499.5L853.2 495.6L853.2 496.9L855.4 499.8L857.5 496.9L857.5 497.0L859.7 501.0L861.9 497.0L861.9 500.2L864.1 502.5L866.2 500.2L866.2 498.7L868.4 503.5L870.6 498.7L870.6 500.8L872.8 503.9L875.0 500.8L875.0 499.7L877.1 504.0L879.3 499.7L879.3 499.6L881.5 503.0L883.7 499.6L883.7 501.1L885.8 503.5L888.0 501.1L888.0 501.8L890.2 504.6L892.4 501.8L892.4 501.4L894.5 503.4L896.7 501.4L896.7 501.8L898.9 505.2L901.1 501.8L901.1 505.3L903.2 506.9L905.4 505.3L905.4 505.0L907.6 508.5L909.8 505.0L909.8 507.5L911.9 510.0L914.1 507.5L914.1 506.5L916.3 509.0L918.5 506.5L918.5 507.6L920.7 512.1L922.8 507.6L922.8 510.6L925.0 512.0L927.2 510.6L927.2 511.0L929.4 513.0L931.5 511.0L931.5 512.6L933.7 514.6L935.9 512.6L935.9 512.5L938.1 514.3L940.2 512.5L940.2 514.1L942.4 515.1L944.6 514.1L944.6 515.1L946.8 517.0L948.9 515.1L948.9 516.3L951.1 517.9L953.3 516.3L953.3 517.2L955.5 520.6L957.6 517.2L957.6 517.4L959.8 519.7L962.0 517.4L962.0 519.7L964.2 522.0L966.4 519.7L966.4 523.8L968.5 524.4L970.7 523.8L970.7 523.4L972.9 526.0L975.1 523.4L975.1 522.9L977.2 525.9L979.4 522.9L979.4 521.6L981.6 523.9L983.8 521.6L983.8 520.8L985.9 522.6L988.1 520.8L988.1 520.3L990.3 522.0L992.5 520.3L992.5 519.3L994.6 521.3L996.8 519.3L996.8 518.0L999.0 519.8L1001.2 518.0L1001.2 518.3L1003.3 518.3L1005.5 518.3L1005.5 517.7L1007.7 520.7L1009.9 517.7L1009.9 518.4L1012.1 519.1L1014.2 518.4L1014.2 518.9L1016.4 521.2L1018.6 518.9L1018.6 519.2L1020.8 521.0L1022.9 519.2L1022.9 519.9L1025.1 522.2L1027.3 519.9L1027.3 521.0L1029.5 522.4L1031.6 521.0L1031.6 521.4L1033.8 522.3L1036.0 521.4L1036.0 522.4L1038.2 523.6L1040.3 522.4L1040.3 522.6L1042.5 523.6L1044.7 522.6L1044.7 522.4L1046.9 525.8L1049.0 522.4L1049.1 525.1L1051.2 528.0L1053.4 525.1L1053.4 527.0L1055.6 528.7L1057.8 527.0L1057.8 529.7L1059.9 530.4L1062.1 529.7L1062.1 532.4L1064.3 534.7L1066.5 532.4L1066.5 536.0L1068.6 537.8L1070.8 536.0L1070.8 536.9L1073.0 540.8L1075.2 536.9L1075.2 539.2L1077.3 541.2L1079.5 539.2L1079.5 540.1L1081.7 542.0L1083.9 540.1L1083.9 539.3L1086.0 541.9L1088.2 539.3L1088.2 539.4L1090.4 542.8L1092.6 539.4L1092.6 539.2L1094.8 542.9L1096.9 539.2L1096.9 541.7L1099.1 543.3L1101.3 541.7L1101.3 540.9L1103.5 542.7L1105.6 540.9L1105.6 540.1L1107.8 543.0L1110.0 540.1L1110.0 542.5L1112.2 544.0L1114.3 542.5L1114.3 541.2L1116.5 544.8L1118.7 541.2L1118.7 543.3L1120.9 545.0L1123.0 543.3L1123.0 543.4L1125.2 544.7L1127.4 543.4L1127.4 542.0L1129.6 545.5L1131.7 542.0L1131.7 541.1L1133.9 543.7L1136.1 541.1L1136.1 541.3L1138.3 541.4L1140.5 541.3L1140.5 537.9L1142.6 540.9L1144.8 537.9L1144.8 540.3L1147.0 541.4L1149.2 540.3L1149.2 540.1L1151.3 543.1L1153.5 540.1L1153.5 542.4L1155.7 545.5L1157.9 542.4L1157.9 545.4L1160.0 547.1L1162.2 545.4L1162.2 546.9L1164.4 550.7L1166.6 546.9L1166.6 548.5L1168.7 551.7L1170.9 548.5L1170.9 551.3L1173.1 551.4L1175.3 551.3L1175.3 550.5L1177.4 553.0L1179.6 550.5L1179.6 551.6L1181.8 555.6L1184.0 551.6L1184.0 553.0L1186.2 555.0L1188.3 553.0L1188.3 554.4L1190.5 557.9L1192.7 554.4L1192.7 555.1L1194.9 557.9L1197.0 555.1L1197.0 555.4L1199.2 559.8L1201.4 555.4L1201.4 556.8L1203.6 558.5L1205.7 556.8L1205.7 556.3L1207.9 558.6L1210.1 556.3L1210.1 556.7L1212.3 560.7L1214.4 556.7L1214.4 556.0L1216.6 560.3L1218.8 556.0L1218.8 557.7L1221.0 558.3L1223.2 557.7L1223.2 555.6L1225.3 558.6L1227.5 555.6L1227.5 557.8L1229.7 561.8L1231.9 557.8L1231.9 561.3L1234.0 563.2L1236.2 561.3L1236.2 564.6L1238.4 566.9L1240.6 564.6L1240.6 565.9L1242.7 568.4L1244.9 565.9L1244.9 569.0L1247.1 570.3L1249.3 569.0L1249.3 570.3L1251.4 572.1L1253.6 570.3L1253.6 571.1L1255.8 574.6L1258.0 571.1L1258.0 573.6L1260.1 574.3L1262.3 573.6L1262.3 573.0L1264.5 575.7L1266.7 573.0L1266.7 573.8L1268.9 576.2L1271.0 573.8L1271.0 574.1L1273.2 578.6L1275.4 574.1L1275.4 575.4L1277.6 578.0L1279.7 575.4L1279.7 576.4L1281.9 576.9L1284.1 576.4L1284.1 574.3L1286.3 578.3L1288.4 574.3L1288.4 574.8L1290.6 576.5L1292.8 574.8L1292.8 575.6L1295.0 576.8L1297.1 575.6L1297.1 574.3L1299.3 576.7L1301.5 574.3L1301.5 575.8L1303.7 577.3L1305.8 575.8L1305.8 575.3L1308.0 578.9L1310.2 575.3L1310.2 576.9L1312.4 578.3L1314.6 576.9L1314.6 576.3L1316.7 579.2L1318.9 576.3L1318.9 576.4L1321.1 579.1L1323.3 576.4L1323.3 578.3L1325.4 579.8L1327.6 578.3L1327.6 579.4L1329.8 582.8L1332.0 579.4L1332.0 583.4L1334.1 583.8L1336.3 583.4L1336.3 586.1L1338.5 589.1L1340.7 586.1L1340.7 586.7L1342.8 589.0L1345.0 586.7L1345.0 588.9L1347.2 590.8L1349.4 588.9L1349.4 587.3L1351.5 591.7L1353.7 587.3L1353.7 588.1L1355.9 591.8L1358.1 588.1L1358.1 589.5L1360.3 589.5L1362.4 589.5L1362.4 588.8L1364.6 591.0L1366.8 588.8L1366.8 587.5L1369.0 590.2L1371.1 587.5L1371.1 588.0L1373.3 590.6L1375.5 588.0L1375.5 586.7L1377.7 590.4L1379.8 586.7L1379.8 586.2L1382.0 590.5L1384.2 586.2L1384.2 588.8L1386.4 590.6L1388.5 588.8L1388.5 589.5L1390.7 590.2L1392.9 589.5L1392.9 589.9L1395.1 590.9L1397.2 589.9L1397.2 590.9L1399.4 593.9L1401.6 590.9L1401.6 591.5L1403.8 592.2L1406.0 591.5L1406.0 592.7L1408.1 594.6L1410.3 592.7L1410.3 591.4L1412.5 593.9L1414.7 591.4L1414.7 591.5L1416.8 595.7L1419.0 591.5L1419.0 593.5L1421.2 594.3L1423.4 593.5L1423.4 593.7L1425.5 595.8L1427.7 593.7L1427.7 594.5L1429.9 595.4L1432.1 594.5L1432.1 593.3L1434.2 595.6L1436.4 593.3L1436.4 594.8L1438.6 597.8L1440.8 594.8L1440.8 594.6L1443.0 598.0L1445.1 594.6L1445.1 596.2L1447.3 598.6L1449.5 596.2L1449.5 596.3L1451.7 599.0L1453.8 596.3L1453.8 598.1L1456.0 599.1L1458.2 598.1L1458.2 598.8L1460.4 599.9L1462.5 598.8L1462.5 598.0L1464.7 600.8L1466.9 598.0L1466.9 600.1L1469.1 602.3L1471.2 600.1L1471.2 598.7L1473.4 603.4L1475.6 598.7L1475.6 598.5L1477.8 601.4L1479.9 598.5L1479.9 599.3L1482.1 602.1L1484.3 599.3L1484.3 600.8L1486.5 603.4L1488.7 600.8L1488.7 600.2L1490.8 604.4L1493.0 600.2L1493.0 602.0L1495.2 606.0L1497.4 602.0L1497.4 603.0L1499.5 606.9L1501.7 603.0L1501.7 607.1L1503.9 607.7L1506.1 607.1L1506.1 609.1L1508.2 611.5L1510.4 609.1L1510.4 609.4L1512.6 611.2L1514.8 609.4L1514.8 611.8L1516.9 613.5L1519.1 611.8L1519.1 611.5L1521.3 615.6L1523.5 611.5L1523.5 615.1L1525.6 616.6L1527.8 615.1L1527.8 615.3L1530.0 617.4L1532.2 615.3L1532.2 617.4L1534.4 620.5L1536.5 617.4L1536.5 618.2L1538.7 620.5L1540.9 618.2L1540.9 620.7L1543.1 623.2L1545.2 620.7L1545.2 620.4L1547.4 621.8L1549.6 620.4L1549.6 622.8L1551.8 624.5L1553.9 622.8L1553.9 623.1L1556.1 626.0L1558.3 623.1L1558.3 623.4L1560.5 627.6L1562.6 623.4L1562.6 625.7L1564.8 628.2L1567.0 625.7L1567.0 621.2L1569.2 623.6L1571.3 621.2L1571.3 618.6L1573.5 623.1L1575.7 618.6L1575.7 620.0L1577.9 622.2L1580.1 620.0L1580.1 620.1L1582.2 620.3L1584.4 620.1L1584.4 619.6L1586.6 620.9L1588.8 619.6L1588.8 618.9L1590.9 620.5L1593.1 618.9L1593.1 619.0L1595.3 622.6L1597.5 619.0L1597.5 619.9L1599.6 623.5L1601.8 619.9L1601.8 620.3L1604.0 623.2L1606.2 620.3L1606.2 622.7L1608.3 623.4L1610.5 622.7L1610.5 624.1L1612.7 625.8L1614.9 624.1L1614.9 623.8L1617.1 627.5L1619.2 623.8L1619.2 626.4L1621.4 628.6L1623.6 626.4L1623.6 627.0L1625.8 628.7L1627.9 627.0L1627.9 627.8L1630.1 631.2L1632.3 627.8L1632.3 630.2L1634.5 631.5L1636.6 630.2L1636.6 630.8L1638.8 634.2L1641.0 630.8L1641.0 632.6L1643.2 636.0L1645.3 632.6L1645.3 632.9L1647.5 637.1L1649.7 632.9L1649.7 635.4L1651.9 637.3L1654.0 635.4L1654.0 636.2L1656.2 637.5L1658.4 636.2L1658.4 635.0L1660.6 638.0L1662.8 635.0L1662.8 635.8L1664.9 637.9L1667.1 635.8L1667.1 634.1L1669.3 637.5L1671.5 634.1L1671.5 632.1L1673.6 634.6L1675.8 632.1L1675.8 632.9L1678.0 633.1L1680.2 632.9L1680.2 631.2L1682.3 632.0L1684.5 631.2L1684.5 630.2L1686.7 633.7L1688.9 630.2L1688.9 630.0L1691.0 633.4L1693.2 630.0L1693.2 630.5L1695.4 633.3L1697.6 630.5L1697.6 631.2L1699.7 631.9L1701.9 631.2L1701.9 629.5L1704.1 633.7L1706.3 629.5L1706.3 630.8L1708.5 632.5L1710.6 630.8L1710.6 630.3L1712.8 634.2L1715.0 630.3L1715.0 632.6L1717.2 633.9L1719.3 632.6L1719.3 633.7L1721.5 636.7L1723.7 633.7L1723.7 636.9L1725.9 638.3L1728.0 636.9L1728.0 639.1L1730.2 640.9L1732.4 639.1L1732.4 641.5L1734.6 642.7L1736.7 641.5L1736.7 641.9L1738.9 644.1L1741.1 641.9L1741.1 641.3L1743.3 645.1L1745.4 641.3L1745.4 642.6L1747.6 644.7L1749.8 642.6L1749.8 644.2L1752.0 646.6L1754.2 644.2L1754.2 644.5L1756.3 646.3L1758.5 644.5L1758.5 645.0L1760.7 646.7L1762.9 645.0L1762.9 646.3L1765.0 648.5L1767.2 646.3L1767.2 645.6L1769.4 647.4L1771.6 645.6L1771.6 647.4L1773.7 650.2L1775.9 647.4L1775.9 647.3L1778.1 651.5L1780.3 647.3L1780.3 649.8L1782.4 652.7L1784.6 649.8L1784.6 649.4L1786.8 653.7L1789.0 649.4L1789.0 649.4L1791.2 651.9L1793.3 649.4L1793.3 650.3L1795.5 653.8L1797.7 650.3L1797.7 651.3L1799.9 653.0L1802.0 651.3L1802.0 651.4L1804.2 654.7L1806.4 651.4L1806.4 652.4L1808.6 654.2L1810.7 652.4L1810.7 654.4L1812.9 656.7L1815.1 654.4L1815.1 654.5L1817.3 658.1L1819.4 654.5L1819.4 656.5L1821.6 657.2L1823.8 656.5L1823.8 657.3L1826.0 659.1L1828.1 657.3L1828.1 653.9L1830.3 655.9L1832.5 653.9L1832.5 652.4L1834.7 655.8L1836.9 652.4L1836.9 650.8L1839.0 652.7L1841.2 650.8L1841.2 652.1L1843.4 652.9L1845.6 652.1L1845.6 652.4L1847.7 654.2L1849.9 652.4L1849.9 652.3L1852.1 654.8L1854.3 652.3L1854.3 652.9L1856.4 656.5L1858.6 652.9L1858.6 654.1L1860.8 657.0L1863.0 654.1L1863.0 656.0L1865.1 657.4L1867.3 656.0L1867.3 657.3L1869.5 659.0L1871.7 657.3L1871.7 658.3L1873.8 659.8L1876.0 658.3L1876.0 657.6L1878.2 660.2L1880.4 657.6L1880.4 659.7L1882.6 662.2L1884.7 659.7L1884.7 660.1L1886.9 663.5L1889.1 660.1L1889.1 660.5L1891.3 664.0L1893.4 660.5L1893.4 662.2L1895.6 664.7L1897.8 662.2L1897.8 661.1L1900.0 665.9L1902.1 661.1L1902.1 663.5L1904.3 665.0L1906.5 663.5L1906.5 664.8L1908.7 666.3L1910.8 664.8L1910.8 666.2L1913.0 668.7L1915.2 666.2L1915.2 666.4L1917.4 668.8L1919.6 666.4L1919.6 669.8L1921.7 672.0L1923.9 669.8L1923.9 670.3L1926.1 671.1L1928.3 670.3L1928.3 670.6L1930.4 673.6L1932.6 670.6L1932.6 672.0L1934.8 673.0L1937.0 672.0L1937.0 671.7L1939.1 672.3L1941.3 671.7L1941.3 669.9L1943.5 673.8L1945.7 669.9L1945.7 670.2L1947.8 673.5L1950.0 670.2L1950.0 671.9L1952.2 672.9L1954.4 671.9L1954.4 672.3L1956.5 673.2L1958.7 672.3L1958.7 671.2L1960.9 675.4L1963.1 671.2L1963.1 671.5L1965.3 676.2L1967.4 671.5L1967.4 673.7L1969.6 676.5L1971.8 673.7L1971.8 673.4L1974.0 675.7L1976.1 673.4L1976.1 674.1L1978.3 677.4L1980.5 674.1L1980.5 675.6L1982.7 679.0L1984.8 675.6L1984.8 676.1L1987.0 678.3L1989.2 676.1L1989.2 677.0L1991.4 680.0L1993.5 677.0L1993.5 677.2L1995.7 680.0L1997.9 677.2L1997.9 678.7L2000.1 679.4L2002.2 678.7L2002.2 678.4L2004.4 680.4L2006.6 678.4" stroke="#a6cee3" stroke-opacity="0.8" stroke-width="7.6" fill="none" stroke-linejoin="round"/></g>
<text x="245.9" y="790.5" font-size="55.00" textLength="32.3" lengthAdjust="spacingAndGlyphs">0</text>
<text x="577.9" y="790.5" font-size="55.00" textLength="64.5" lengthAdjust="spacingAndGlyphs">20</text>
<text x="926.1" y="790.5" font-size="55.00" textLength="64.5" lengthAdjust="spacingAndGlyphs">40</text>
<text x="1274.3" y="790.5" font-size="55.00" textLength="64.5" lengthAdjust="spacingAndGlyphs">60</text>
<text x="1622.5" y="790.5" font-size="55.00" textLength="64.5" lengthAdjust="spacingAndGlyphs">80</text>
<text x="1954.6" y="790.5" font-size="55.00" textLength="96.8" lengthAdjust="spacingAndGlyphs">100</text>
<text x="143.8" y="734.0" font-size="55.00" textLength="80.2" lengthAdjust="spacingAndGlyphs">1.8</text>
<text x="143.8" y="637.1" font-size="55.00" textLength="80.2" lengthAdjust="spacingAndGlyphs">2.0</text>
<text x="143.8" y="540.1" font-size="55.00" textLength="80.2" lengthAdjust="spacingAndGlyphs">2.2</text>
<text x="143.8" y="443.2" font-size="55.00" textLength="80.2" lengthAdjust="spacingAndGlyphs">2.4</text>
<text x="143.8" y="346.3" font-size="55.00" textLength="80.2" lengthAdjust="spacingAndGlyphs">2.6</text>
<text x="143.8" y="249.4" font-size="55.00" textLength="80.2" lengthAdjust="spacingAndGlyphs">2.8</text>
<text x="143.8" y="152.4" font-size="55.00" textLength="80.2" lengthAdjust="spacingAndGlyphs">3.0</text>
<text x="143.8" y="55.5" font-size="55.00" textLength="80.2" lengthAdjust="spacingAndGlyphs">3.2</text>
<text y="90.0" font-size="55.00"><tspan x="280.0" textLength="72.4" lengthAdjust="spacingAndGlyphs">(a)</tspan> <tspan x="369.0" textLength="201.2" lengthAdjust="spacingAndGlyphs">Grazing</tspan> <tspan x="586.7" textLength="219.7" lengthAdjust="spacingAndGlyphs">iteration</tspan> <tspan x="823.0" textLength="169.1" lengthAdjust="spacingAndGlyphs">values</tspan></text>
<rect x="1415.6" y="62.5" width="560.6" height="324.2" rx="9" ry="9" fill="#fff" fill-opacity="0.8" stroke="#ccc" stroke-opacity="0.8" stroke-width="4.2"/>
<path d="M1432.1 103.9H1544.1" stroke="#a6cee3" stroke-opacity="0.8" stroke-width="7.4" fill="none"/>
<text y="122.3" font-size="55.63"><tspan x="1581.3" textLength="71.5" lengthAdjust="spacingAndGlyphs">No</tspan> <tspan x="1669.6" textLength="196.2" lengthAdjust="spacingAndGlyphs">grazing</tspan></text>
<path d="M1432.1 181.7H1544.1" stroke="#1f78b4" stroke-opacity="0.8" stroke-width="7.4" fill="none"/>
<text y="199.9" font-size="55.63"><tspan x="1581.3" textLength="117.1" lengthAdjust="spacingAndGlyphs">0.01</tspan> <tspan x="1715.1" textLength="101.2" lengthAdjust="spacingAndGlyphs">LSU</tspan> <tspan x="1833.0" textLength="65.6" lengthAdjust="spacingAndGlyphs">ha</tspan></text>
<text x="1898.6" y="180.4" font-size="38.94" textLength="54.3" lengthAdjust="spacingAndGlyphs">−1</text>
<path d="M1432.1 259.8H1544.1" stroke="#b2df8a" stroke-opacity="0.8" stroke-width="7.4" fill="none"/>
<text y="277.8" font-size="55.63"><tspan x="1581.3" textLength="117.1" lengthAdjust="spacingAndGlyphs">0.03</tspan> <tspan x="1715.1" textLength="101.2" lengthAdjust="spacingAndGlyphs">LSU</tspan> <tspan x="1833.0" textLength="65.6" lengthAdjust="spacingAndGlyphs">ha</tspan></text>
<text x="1898.6" y="258.3" font-size="38.94" textLength="54.3" lengthAdjust="spacingAndGlyphs">−1</text>
<path d="M1432.1 338.0H1544.1" stroke="#33a02c" stroke-opacity="0.8" stroke-width="7.4" fill="none"/>
<text y="355.7" font-size="55.63"><tspan x="1581.3" textLength="117.1" lengthAdjust="spacingAndGlyphs">0.06</tspan> <tspan x="1715.1" textLength="101.2" lengthAdjust="spacingAndGlyphs">LSU</tspan> <tspan x="1833.0" textLength="65.6" lengthAdjust="spacingAndGlyphs">ha</tspan></text>
<text x="1898.6" y="336.2" font-size="38.94" textLength="54.3" lengthAdjust="spacingAndGlyphs">−1</text>
</g>
<g id="panel1">
<path d="M349.05 849.5V1528.0M436.10 849.5V1528.0M523.15 849.5V1528.0M697.25 849.5V1528.0M784.30 849.5V1528.0M871.35 849.5V1528.0M1045.45 849.5V1528.0M1132.50 849.5V1528.0M1219.55 849.5V1528.0M1393.65 849.5V1528.0M1480.70 849.5V1528.0M1567.75 849.5V1528.0M1741.85 849.5V1528.0M1828.90 849.5V1528.0M1915.95 849.5V1528.0M262.0 1505.38H2003.0M262.0 1482.77H2003.0M262.0 1460.15H2003.0M262.0 1437.53H2003.0M262.0 1392.30H2003.0M262.0 1369.68H2003.0M262.0 1347.07H2003.0M262.0 1324.45H2003.0M262.0 1279.22H2003.0M262.0 1256.60H2003.0M262.0 1233.98H2003.0M262.0 1211.37H2003.0M262.0 1166.13H2003.0M262.0 1143.52H2003.0M262.0 1120.90H2003.0M262.0 1098.28H2003.0M262.0 1053.05H2003.0M262.0 1030.43H2003.0M262.0 1007.82H2003.0M262.0 985.20H2003.0M262.0 939.97H2003.0M262.0 917.35H2003.0M262.0 894.73H2003.0M262.0 872.12H2003.0" stroke="#808080" stroke-opacity="0.05" stroke-width="4.0" fill="none"/>
<path d="M610.20 849.5V1528.0M958.40 849.5V1528.0M1306.60 849.5V1528.0M1654.80 849.5V1528.0M262.0 1414.92H2003.0M262.0 1301.83H2003.0M262.0 1188.75H2003.0M262.0 1075.67H2003.0M262.0 962.58H2003.0" stroke="#808080" stroke-opacity="0.5" stroke-width="4.2" fill="none"/>
<path d="M262.00 1528.0v18.4M610.20 1528.0v18.4M958.40 1528.0v18.4M1306.60 1528.0v18.4M1654.80 1528.0v18.4M2003.00 1528.0v18.4M262.0 1528.00h-18.4M262.0 1414.92h-18.4M262.0 1301.83h-18.4M262.0 1188.75h-18.4M262.0 1075.67h-18.4M262.0 962.58h-18.4M262.0 849.50h-18.4" stroke="#000" stroke-width="4.4" fill="none"/>
<path d="M349.05 1528.0v10.6M436.10 1528.0v10.6M523.15 1528.0v10.6M697.25 1528.0v10.6M784.30 1528.0v10.6M871.35 1528.0v10.6M1045.45 1528.0v10.6M1132.50 1528.0v10.6M1219.55 1528.0v10.6M1393.65 1528.0v10.6M1480.70 1528.0v10.6M1567.75 1528.0v10.6M1741.85 1528.0v10.6M1828.90 1528.0v10.6M1915.95 1528.0v10.6M262.0 1505.38h-10.6M262.0 1482.77h-10.6M262.0 1460.15h-10.6M262.0 1437.53h-10.6M262.0 1392.30h-10.6M262.0 1369.68h-10.6M262.0 1347.07h-10.6M262.0 1324.45h-10.6M262.0 1279.22h-10.6M262.0 1256.60h-10.6M262.0 1233.98h-10.6M262.0 1211.37h-10.6M262.0 1166.13h-10.6M262.0 1143.52h-10.6M262.0 1120.90h-10.6M262.0 1098.28h-10.6M262.0 1053.05h-10.6M262.0 1030.43h-10.6M262.0 1007.82h-10.6M262.0 985.20h-10.6M262.0 939.97h-10.6M262.0 917.35h-10.6M262.0 894.73h-10.6M262.0 872.12h-10.6" stroke="#000" stroke-width="3.4" fill="none"/>
<rect x="262.0" y="849.5" width="1741.0" height="678.5" fill="none" stroke="#000" stroke-width="4.5"/>
<g clip-path="url(#c1)"><path d="M262.0 936.1L353.6 957.6L445.3 978.4L536.9 1008.4L628.5 1042.3L720.2 1066.6L811.8 1082.0L903.4 1096.0L995.1 1123.4L1086.7 1148.6L1178.3 1176.3L1269.9 1210.9L1361.6 1242.1L1453.2 1287.8L1544.8 1324.2L1636.5 1352.8L1728.1 1398.0L1819.7 1419.7L1911.4 1452.8L2003.0 1479.4" stroke="#33a02c" stroke-opacity="0.8" stroke-width="6.6" fill="none" stroke-linejoin="round"/>
<path d="M262.0 910.2L353.6 933.4L445.3 935.1L536.9 964.5L628.5 982.5L720.2 1011.2L811.8 1027.9L903.4 1046.5L995.1 1081.9L1086.7 1103.6L1178.3 1143.4L1269.9 1171.1L1361.6 1211.4L1453.2 1237.7L1544.8 1275.7L1636.5 1318.9L1728.1 1361.1L1819.7 1377.5L1911.4 1399.9L2003.0 1430.4" stroke="#b2df8a" stroke-opacity="0.8" stroke-width="6.6" fill="none" stroke-linejoin="round"/>
<path d="M262.0 898.1L353.6 912.6L445.3 921.9L536.9 961.1L628.5 980.1L720.2 1004.3L811.8 1027.6L903.4 1069.1L995.1 1094.3L1086.7 1126.1L1178.3 1161.5L1269.9 1202.2L1361.6 1235.6L1453.2 1263.6L1544.8 1282.6L1636.5 1313.1L1728.1 1366.3L1819.7 1386.2L1911.4 1424.5L2003.0 1458.7" stroke="#1f78b4" stroke-opacity="0.8" stroke-width="6.6" fill="none" stroke-linejoin="round"/>
<path d="M262.0 891.3L353.6 902.2L445.3 905.7L536.9 942.2L628.5 966.3L720.2 988.6L811.8 1010.1L903.4 1049.3L995.1 1083.9L1086.7 1114.0L1178.3 1148.6L1269.9 1197.0L1361.6 1226.9L1453.2 1252.5L1544.8 1298.2L1636.5 1320.7L1728.1 1348.2L1819.7 1377.6L1911.4 1400.2L2003.0 1433.3" stroke="#a6cee3" stroke-opacity="0.8" stroke-width="6.6" fill="none" stroke-linejoin="round"/></g>
<text x="245.9" y="1604.5" font-size="55.00" textLength="32.3" lengthAdjust="spacingAndGlyphs">0</text>
<text x="577.9" y="1604.5" font-size="55.00" textLength="64.5" lengthAdjust="spacingAndGlyphs">20</text>
<text x="926.1" y="1604.5" font-size="55.00" textLength="64.5" lengthAdjust="spacingAndGlyphs">40</text>
<text x="1274.3" y="1604.5" font-size="55.00" textLength="64.5" lengthAdjust="spacingAndGlyphs">60</text>
<text x="1622.5" y="1604.5" font-size="55.00" textLength="64.5" lengthAdjust="spacingAndGlyphs">80</text>
<text x="1954.6" y="1604.5" font-size="55.00" textLength="96.8" lengthAdjust="spacingAndGlyphs">100</text>
<text x="143.8" y="1548.0" font-size="55.00" textLength="80.2" lengthAdjust="spacingAndGlyphs">1.8</text>
<text x="143.8" y="1434.9" font-size="55.00" textLength="80.2" lengthAdjust="spacingAndGlyphs">1.9</text>
<text x="143.8" y="1321.8" font-size="55.00" textLength="80.2" lengthAdjust="spacingAndGlyphs">2.0</text>
<text x="143.8" y="1208.7" font-size="55.00" textLength="80.2" lengthAdjust="spacingAndGlyphs">2.1</text>
<text x="143.8" y="1095.7" font-size="55.00" textLength="80.2" lengthAdjust="spacingAndGlyphs">2.2</text>
<text x="143.8" y="982.6" font-size="55.00" textLength="80.2" lengthAdjust="spacingAndGlyphs">2.3</text>
<text x="143.8" y="869.5" font-size="55.00" textLength="80.2" lengthAdjust="spacingAndGlyphs">2.4</text>
<text y="904.0" font-size="55.00"><tspan x="280.0" textLength="73.6" lengthAdjust="spacingAndGlyphs">(b)</tspan> <tspan x="370.1" textLength="167.0" lengthAdjust="spacingAndGlyphs">5-year</tspan> <tspan x="553.6" textLength="240.0" lengthAdjust="spacingAndGlyphs">averages</tspan></text>
</g>
<g id="panel2">
<g clip-path="url(#c2)"><path d="M262.0 1847.4L842.3 1908.1L1422.7 2020.4L2003.0 2124.2L2003.0 2144.6L1422.7 2038.0L842.3 1923.0L262.0 1866.4Z" fill="#1f78b4" fill-opacity="0.3" stroke="none"/><path d="M262.0 1818.2L842.3 1864.0L1422.7 1934.2L2003.0 2026.5L2003.0 2074.0L1422.7 1979.7L842.3 1917.6L262.0 1867.7Z" fill="#b2df8a" fill-opacity="0.3" stroke="none"/><path d="M262.0 1903.3L842.3 1971.9L1422.7 2070.9L2003.0 2149.6L2003.0 2241.2L1422.7 2159.8L842.3 2063.5L262.0 2000.4Z" fill="#33a02c" fill-opacity="0.3" stroke="none"/></g>
<path d="M349.05 1663.5V2342.0M436.10 1663.5V2342.0M523.15 1663.5V2342.0M610.20 1663.5V2342.0M784.30 1663.5V2342.0M871.35 1663.5V2342.0M958.40 1663.5V2342.0M1045.45 1663.5V2342.0M1219.55 1663.5V2342.0M1306.60 1663.5V2342.0M1393.65 1663.5V2342.0M1480.70 1663.5V2342.0M1654.80 1663.5V2342.0M1741.85 1663.5V2342.0M1828.90 1663.5V2342.0M1915.95 1663.5V2342.0M262.0 2274.15H2003.0M262.0 2206.30H2003.0M262.0 2138.45H2003.0M262.0 2070.60H2003.0M262.0 1934.90H2003.0M262.0 1867.05H2003.0M262.0 1799.20H2003.0M262.0 1731.35H2003.0" stroke="#808080" stroke-opacity="0.05" stroke-width="4.0" fill="none"/>
<path d="M697.25 1663.5V2342.0M1132.50 1663.5V2342.0M1567.75 1663.5V2342.0M262.0 2002.75H2003.0" stroke="#808080" stroke-opacity="0.5" stroke-width="4.2" fill="none"/>
<path d="M262.00 2342.0v18.4M697.25 2342.0v18.4M1132.50 2342.0v18.4M1567.75 2342.0v18.4M2003.00 2342.0v18.4M262.0 2342.00h-18.4M262.0 2002.75h-18.4M262.0 1663.50h-18.4" stroke="#000" stroke-width="4.4" fill="none"/>
<path d="M349.05 2342.0v10.6M436.10 2342.0v10.6M523.15 2342.0v10.6M610.20 2342.0v10.6M784.30 2342.0v10.6M871.35 2342.0v10.6M958.40 2342.0v10.6M1045.45 2342.0v10.6M1219.55 2342.0v10.6M1306.60 2342.0v10.6M1393.65 2342.0v10.6M1480.70 2342.0v10.6M1654.80 2342.0v10.6M1741.85 2342.0v10.6M1828.90 2342.0v10.6M1915.95 2342.0v10.6M262.0 2274.15h-10.6M262.0 2206.30h-10.6M262.0 2138.45h-10.6M262.0 2070.60h-10.6M262.0 1934.90h-10.6M262.0 1867.05h-10.6M262.0 1799.20h-10.6M262.0 1731.35h-10.6" stroke="#000" stroke-width="3.4" fill="none"/>
<rect x="262.0" y="1663.5" width="1741.0" height="678.5" fill="none" stroke="#000" stroke-width="4.5"/>
<g clip-path="url(#c2)"><path d="M262.0 1951.9L842.3 2017.7L1422.7 2115.4L2003.0 2195.4" stroke="#33a02c" stroke-opacity="0.8" stroke-width="6.6" fill="none" stroke-linejoin="round"/>
<path d="M262.0 1843.0L842.3 1890.8L1422.7 1957.0L2003.0 2050.2" stroke="#b2df8a" stroke-opacity="0.8" stroke-width="6.6" fill="none" stroke-linejoin="round"/>
<path d="M262.0 1856.9L842.3 1915.6L1422.7 2029.2L2003.0 2134.4" stroke="#1f78b4" stroke-opacity="0.8" stroke-width="6.6" fill="none" stroke-linejoin="round"/>
<path d="M262.0 1800.6L842.3 1889.8L1422.7 1958.0L2003.0 2057.7" stroke="#a6cee3" stroke-opacity="0.8" stroke-width="6.6" fill="none" stroke-linejoin="round"/></g>
<text x="229.7" y="2418.5" font-size="55.00" textLength="64.5" lengthAdjust="spacingAndGlyphs">80</text>
<text x="665.0" y="2418.5" font-size="55.00" textLength="64.5" lengthAdjust="spacingAndGlyphs">85</text>
<text x="1100.2" y="2418.5" font-size="55.00" textLength="64.5" lengthAdjust="spacingAndGlyphs">90</text>
<text x="1535.5" y="2418.5" font-size="55.00" textLength="64.5" lengthAdjust="spacingAndGlyphs">95</text>
<text x="1954.6" y="2418.5" font-size="55.00" textLength="96.8" lengthAdjust="spacingAndGlyphs">100</text>
<text x="143.8" y="2362.0" font-size="55.00" textLength="80.2" lengthAdjust="spacingAndGlyphs">1.8</text>
<text x="143.8" y="2022.8" font-size="55.00" textLength="80.2" lengthAdjust="spacingAndGlyphs">1.9</text>
<text x="143.8" y="1683.5" font-size="55.00" textLength="80.2" lengthAdjust="spacingAndGlyphs">2.0</text>
<text y="1718.0" font-size="55.00"><tspan x="280.0" textLength="69.2" lengthAdjust="spacingAndGlyphs">(c)</tspan> <tspan x="365.7" textLength="167.0" lengthAdjust="spacingAndGlyphs">5-year</tspan> <tspan x="549.2" textLength="240.0" lengthAdjust="spacingAndGlyphs">averages</tspan> <tspan x="805.7" textLength="110.3" lengthAdjust="spacingAndGlyphs">with</tspan> <tspan x="932.5" textLength="230.7" lengthAdjust="spacingAndGlyphs">standard</tspan> <tspan x="1179.7" textLength="241.7" lengthAdjust="spacingAndGlyphs">deviation</tspan> <tspan x="1438.0" textLength="156.9" lengthAdjust="spacingAndGlyphs">shade</tspan></text>
</g>
<text y="2520.6" font-size="55.63"><tspan x="797.3" textLength="280.2" lengthAdjust="spacingAndGlyphs">Simulation</tspan> <tspan x="1094.2" textLength="118.9" lengthAdjust="spacingAndGlyphs">time</tspan> <tspan x="1229.8" textLength="179.8" lengthAdjust="spacingAndGlyphs">(Years)</tspan></text>
<g transform="translate(63.8 1795.0) rotate(-90)"><text y="0.0" font-size="54.89"><tspan x="0.0" textLength="204.0" lengthAdjust="spacingAndGlyphs">Amount</tspan> <tspan x="220.5" textLength="50.0" lengthAdjust="spacingAndGlyphs">of</tspan> <tspan x="287.0" textLength="168.1" lengthAdjust="spacingAndGlyphs">forage</tspan> <tspan x="471.5" textLength="234.3" lengthAdjust="spacingAndGlyphs">available</tspan> <tspan x="722.3" textLength="52.1" lengthAdjust="spacingAndGlyphs">to</tspan> <tspan x="790.9" textLength="166.6" lengthAdjust="spacingAndGlyphs">grazer</tspan> <tspan x="974.0" textLength="51.0" lengthAdjust="spacingAndGlyphs">(x</tspan> <tspan x="1041.5" textLength="66.0" lengthAdjust="spacingAndGlyphs">10</tspan></text><text x="1112.3" y="-20.2" font-size="38.43" textLength="21.5" lengthAdjust="spacingAndGlyphs">5</text><text x="1152.0" y="0.0" font-size="55.11" textLength="83.6" lengthAdjust="spacingAndGlyphs">kg)</text></g>
</svg>
</body></html>
